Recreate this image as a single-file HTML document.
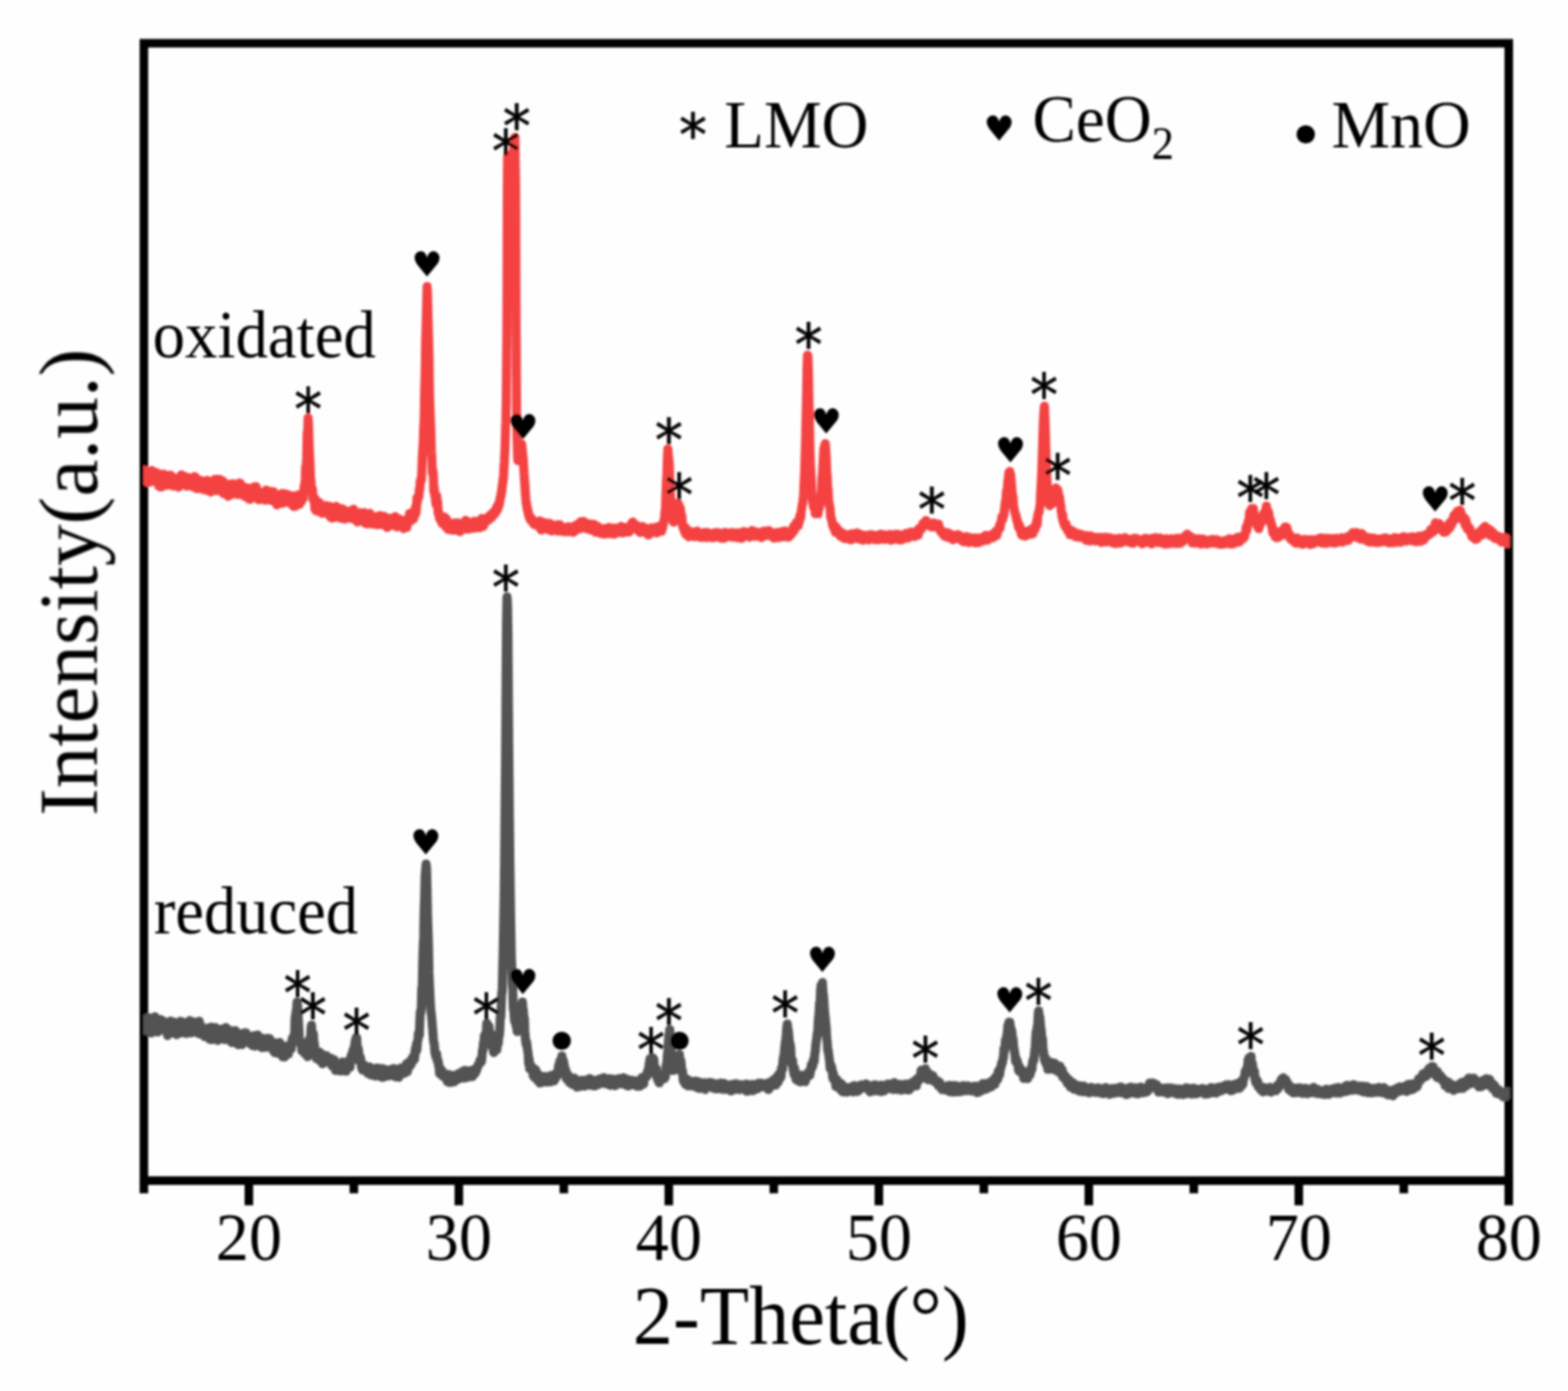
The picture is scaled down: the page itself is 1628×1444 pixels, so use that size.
<!DOCTYPE html>
<html lang="en"><head><meta charset="utf-8"><title>XRD patterns</title>
<style>
html,body{margin:0;padding:0;background:#fff;}
body{width:1628px;height:1444px;overflow:hidden;}
svg{display:block;}
.s{font-family:"Liberation Serif","DejaVu Serif",serif;fill:#000;}
.m{font-family:"DejaVu Sans","Liberation Sans",sans-serif;fill:#000;}
</style></head><body>
<svg width="1628" height="1444" viewBox="0 0 1628 1444">
<defs><filter id="soft" x="0" y="0" width="1628" height="1444" filterUnits="userSpaceOnUse"><feGaussianBlur stdDeviation="0.9"/></filter><clipPath id="plot"><rect x="149" y="0" width="1418.7" height="1444"/></clipPath></defs>
<rect x="0" y="0" width="1628" height="1444" fill="#fefefe"/>
<g filter="url(#soft)">
<rect x="149.4" y="44.9" width="1417.1" height="1180.7" fill="none" stroke="#000" stroke-width="8.9"/>
<path d="M149.4,1225.6V1238.8M258.4,1225.6V1251.2M367.4,1225.6V1238.8M476.4,1225.6V1251.2M585.4,1225.6V1238.8M694.4,1225.6V1251.2M803.4,1225.6V1238.8M912.5,1225.6V1251.2M1021.5,1225.6V1238.8M1130.5,1225.6V1251.2M1239.5,1225.6V1238.8M1348.5,1225.6V1251.2M1457.5,1225.6V1238.8M1566.5,1225.6V1251.2" fill="none" stroke="#000" stroke-width="8.9"/>
<path d="M149.4,1063.9 149.9,1069.7 150.4,1066.5 150.9,1060.2 151.4,1058.3 151.9,1065.2 152.4,1057.0 152.9,1060.8 153.4,1064.6 153.9,1061.3 154.4,1056.5 154.9,1070.2 155.4,1070.1 155.9,1061.8 156.4,1066.1 156.9,1072.3 157.4,1070.3 157.9,1058.6 158.4,1061.4 158.9,1060.4 159.4,1068.3 159.9,1065.5 160.4,1057.7 160.9,1055.5 161.4,1070.8 161.9,1059.0 162.4,1063.2 162.9,1063.0 163.4,1071.3 163.9,1064.2 164.4,1070.8 164.9,1069.4 165.4,1060.5 165.9,1066.8 166.4,1059.2 166.9,1058.5 167.4,1068.9 167.9,1063.7 168.4,1059.4 168.9,1065.2 169.4,1065.2 169.9,1068.8 170.4,1068.0 170.9,1066.8 171.4,1061.1 171.9,1063.2 172.4,1067.7 172.9,1066.0 173.4,1067.1 173.9,1075.0 174.4,1073.7 174.9,1066.5 175.4,1071.8 175.9,1071.9 176.4,1062.8 176.9,1060.0 177.4,1066.2 177.9,1072.0 178.4,1060.5 178.9,1062.1 179.4,1072.4 179.9,1060.9 180.4,1072.6 180.9,1062.4 181.4,1067.1 181.9,1072.3 182.4,1062.6 182.9,1066.2 183.4,1074.0 183.9,1063.2 184.4,1062.8 184.9,1070.4 185.4,1072.6 185.9,1067.6 186.4,1062.1 186.9,1068.8 187.4,1060.1 187.9,1060.4 188.4,1064.8 188.9,1072.3 189.4,1071.0 189.9,1065.1 190.4,1061.5 190.9,1061.5 191.4,1067.8 191.9,1067.9 192.4,1067.9 192.9,1062.5 193.4,1072.8 193.9,1069.0 194.4,1071.6 194.9,1066.4 195.4,1061.5 195.9,1069.6 196.4,1066.2 196.9,1059.5 197.4,1060.4 197.9,1065.5 198.4,1072.2 198.9,1065.5 199.4,1069.0 199.9,1068.0 200.4,1063.5 200.9,1065.0 201.4,1060.8 201.9,1061.6 202.4,1067.3 202.9,1069.4 203.4,1062.6 203.9,1069.7 204.4,1067.8 204.9,1072.3 205.4,1070.9 205.9,1065.8 206.4,1067.7 206.9,1060.3 207.4,1073.3 207.9,1071.9 208.4,1068.5 208.9,1065.1 209.4,1071.4 209.9,1068.2 210.4,1072.4 210.9,1069.8 211.4,1068.5 211.9,1069.6 212.4,1076.1 212.9,1075.8 213.4,1068.2 213.9,1068.4 214.4,1071.4 214.9,1069.7 215.4,1068.5 215.9,1072.6 216.4,1067.6 216.9,1066.9 217.4,1068.6 217.9,1078.9 218.4,1075.9 218.9,1072.1 219.4,1066.3 219.9,1079.2 220.4,1077.0 220.9,1076.6 221.4,1070.8 221.9,1068.2 222.4,1067.3 222.9,1075.8 223.4,1066.8 223.9,1073.7 224.4,1075.3 224.9,1072.8 225.4,1077.1 225.9,1080.0 226.4,1068.2 226.9,1069.9 227.4,1070.2 227.9,1073.3 228.4,1076.3 228.9,1074.3 229.4,1075.0 229.9,1077.9 230.4,1070.0 230.9,1068.8 231.4,1068.3 231.9,1078.5 232.4,1070.9 232.9,1074.4 233.4,1079.4 233.9,1068.6 234.4,1066.6 234.9,1069.4 235.4,1071.2 235.9,1073.3 236.4,1068.5 236.9,1077.2 237.4,1075.8 237.9,1078.1 238.4,1070.6 238.9,1071.8 239.4,1078.0 239.9,1074.8 240.4,1082.2 240.9,1079.8 241.4,1071.1 241.9,1070.2 242.4,1073.5 242.9,1079.4 243.4,1076.8 243.9,1071.1 244.4,1069.9 244.9,1077.0 245.4,1082.8 245.9,1077.9 246.4,1083.2 246.9,1077.7 247.4,1084.6 247.9,1078.1 248.4,1083.8 248.9,1075.5 249.4,1073.1 249.9,1081.9 250.4,1074.0 250.9,1083.4 251.4,1084.3 251.9,1076.8 252.4,1076.5 252.9,1079.6 253.4,1081.4 253.9,1072.1 254.4,1078.8 254.9,1072.8 255.4,1072.2 255.9,1075.0 256.4,1075.9 256.9,1075.8 257.4,1080.1 257.9,1077.6 258.4,1075.9 258.9,1078.2 259.4,1080.9 259.9,1083.7 260.4,1077.8 260.9,1084.1 261.4,1082.4 261.9,1085.2 262.4,1078.9 262.9,1075.7 263.4,1075.2 263.9,1080.5 264.4,1086.0 264.9,1077.3 265.4,1078.7 265.9,1083.9 266.4,1078.7 266.9,1085.3 267.4,1074.4 267.9,1084.3 268.4,1076.5 268.9,1085.3 269.4,1082.9 269.9,1084.0 270.4,1080.5 270.9,1078.9 271.4,1079.6 271.9,1087.6 272.4,1083.0 272.9,1077.9 273.4,1086.1 273.9,1086.8 274.4,1085.9 274.9,1079.3 275.4,1080.5 275.9,1087.2 276.4,1084.9 276.9,1085.3 277.4,1077.9 277.9,1083.7 278.4,1080.4 278.9,1079.3 279.4,1078.3 279.9,1078.3 280.4,1080.8 280.9,1087.4 281.4,1086.4 281.9,1086.4 282.4,1084.8 282.9,1083.0 283.4,1088.3 283.9,1091.3 284.4,1086.9 284.9,1082.5 285.4,1092.8 285.9,1087.6 286.4,1082.9 286.9,1091.1 287.4,1086.0 287.9,1083.0 288.4,1093.3 288.9,1086.3 289.4,1084.8 289.9,1087.5 290.4,1082.3 290.9,1085.4 291.4,1091.4 291.9,1088.4 292.4,1085.5 292.9,1088.3 293.4,1096.9 293.9,1093.8 294.4,1092.7 294.9,1086.6 295.4,1097.2 295.9,1091.2 296.4,1090.4 296.9,1092.9 297.4,1092.4 297.9,1093.4 298.4,1085.6 298.9,1091.1 299.4,1094.1 299.9,1088.2 300.4,1085.5 300.9,1085.3 301.4,1084.8 301.9,1087.7 302.4,1088.9 302.9,1081.4 303.4,1078.4 303.9,1077.1 304.4,1077.6 304.9,1075.8 305.4,1077.8 305.9,1072.7 306.4,1056.6 306.9,1054.2 307.4,1050.0 307.9,1048.7 308.4,1040.2 308.9,1042.6 309.4,1051.6 309.9,1060.3 310.4,1070.1 310.9,1080.2 311.4,1081.0 311.9,1083.7 312.4,1084.1 312.9,1083.5 313.4,1090.9 313.9,1082.8 314.4,1091.1 314.9,1091.7 315.4,1084.6 315.9,1089.9 316.4,1093.9 316.9,1092.9 317.4,1091.2 317.9,1089.8 318.4,1087.4 318.9,1086.8 319.4,1096.9 319.9,1091.2 320.4,1091.6 320.9,1079.7 321.4,1078.3 321.9,1077.7 322.4,1079.7 322.9,1068.1 323.4,1064.1 323.9,1072.9 324.4,1076.5 324.9,1081.1 325.4,1073.4 325.9,1082.5 326.4,1083.0 326.9,1093.3 327.4,1090.2 327.9,1089.9 328.4,1098.7 328.9,1094.8 329.4,1091.6 329.9,1095.2 330.4,1097.3 330.9,1100.3 331.4,1096.0 331.9,1092.5 332.4,1099.4 332.9,1101.7 333.4,1095.3 333.9,1099.9 334.4,1101.7 334.9,1104.3 335.4,1095.1 335.9,1102.1 336.4,1101.3 336.9,1097.0 337.4,1100.8 337.9,1096.5 338.4,1096.0 338.9,1096.0 339.4,1100.2 339.9,1101.7 340.4,1099.1 340.9,1102.4 341.4,1102.0 341.9,1100.0 342.4,1101.5 342.9,1102.9 343.4,1103.2 343.9,1098.7 344.4,1106.0 344.9,1106.7 345.4,1101.4 345.9,1104.1 346.4,1107.0 346.9,1100.3 347.4,1108.7 347.9,1107.8 348.4,1111.2 348.9,1105.7 349.4,1104.2 349.9,1104.1 350.4,1111.2 350.9,1109.1 351.4,1105.9 351.9,1104.5 352.4,1109.8 352.9,1111.8 353.4,1110.9 353.9,1104.2 354.4,1107.7 354.9,1106.7 355.4,1102.4 355.9,1108.1 356.4,1111.7 356.9,1103.0 357.4,1103.9 357.9,1106.1 358.4,1103.0 358.9,1105.0 359.4,1112.0 359.9,1104.3 360.4,1108.8 360.9,1108.0 361.4,1102.6 361.9,1106.5 362.4,1100.7 362.9,1105.5 363.4,1107.9 363.9,1100.3 364.4,1096.8 364.9,1095.3 365.4,1100.8 365.9,1097.3 366.4,1090.2 366.9,1093.3 367.4,1096.3 367.9,1086.6 368.4,1084.0 368.9,1080.2 369.4,1080.5 369.9,1077.0 370.4,1077.5 370.9,1090.2 371.4,1087.1 371.9,1088.5 372.4,1091.2 372.9,1099.4 373.4,1096.1 373.9,1102.8 374.4,1098.5 374.9,1102.3 375.4,1107.9 375.9,1109.6 376.4,1110.9 376.9,1107.1 377.4,1110.4 377.9,1108.6 378.4,1105.9 378.9,1111.3 379.4,1109.9 379.9,1106.9 380.4,1109.3 380.9,1109.3 381.4,1112.1 381.9,1114.4 382.4,1112.8 382.9,1112.3 383.4,1108.2 383.9,1107.6 384.4,1109.8 384.9,1115.8 385.4,1111.2 385.9,1115.8 386.4,1114.9 386.9,1116.2 387.4,1111.5 387.9,1115.8 388.4,1113.6 388.9,1111.1 389.4,1112.7 389.9,1117.1 390.4,1116.0 390.9,1108.7 391.4,1109.4 391.9,1108.6 392.4,1110.0 392.9,1110.3 393.4,1116.7 393.9,1111.6 394.4,1113.5 394.9,1111.2 395.4,1113.2 395.9,1118.1 396.4,1116.6 396.9,1109.3 397.4,1118.4 397.9,1110.3 398.4,1110.3 398.9,1110.0 399.4,1116.8 399.9,1115.2 400.4,1114.1 400.9,1112.9 401.4,1111.8 401.9,1117.1 402.4,1111.4 402.9,1110.6 403.4,1114.9 403.9,1116.8 404.4,1112.9 404.9,1112.3 405.4,1110.5 405.9,1113.2 406.4,1114.7 406.9,1115.4 407.4,1111.8 407.9,1109.4 408.4,1112.2 408.9,1113.4 409.4,1109.3 409.9,1109.5 410.4,1117.8 410.9,1110.3 411.4,1110.5 411.9,1115.2 412.4,1112.4 412.9,1113.5 413.4,1112.7 413.9,1118.4 414.4,1116.1 414.9,1116.5 415.4,1113.4 415.9,1108.8 416.4,1112.5 416.9,1109.0 417.4,1114.0 417.9,1109.1 418.4,1111.5 418.9,1109.2 419.4,1108.5 419.9,1114.2 420.4,1113.0 420.9,1107.4 421.4,1108.2 421.9,1104.6 422.4,1106.2 422.9,1112.5 423.4,1103.4 423.9,1109.4 424.4,1104.7 424.9,1104.0 425.4,1105.9 425.9,1101.5 426.4,1105.9 426.9,1102.4 427.4,1103.8 427.9,1099.1 428.4,1097.6 428.9,1098.1 429.4,1100.5 429.9,1095.3 430.4,1099.4 430.9,1092.1 431.4,1088.2 431.9,1092.0 432.4,1083.4 432.9,1089.4 433.4,1081.2 433.9,1079.9 434.4,1072.8 434.9,1072.2 435.4,1074.7 435.9,1060.0 436.4,1050.1 436.9,1051.5 437.4,1046.5 437.9,1026.0 438.4,1026.2 438.9,999.8 439.4,983.6 439.9,972.9 440.4,944.4 440.9,930.4 441.4,909.4 441.9,903.3 442.4,896.9 442.9,901.1 443.4,923.7 443.9,949.9 444.4,965.3 444.9,981.3 445.4,1009.9 445.9,1021.7 446.4,1031.9 446.9,1043.1 447.4,1049.8 447.9,1053.1 448.4,1058.6 448.9,1065.1 449.4,1070.6 449.9,1077.9 450.4,1082.4 450.9,1083.5 451.4,1091.1 451.9,1094.5 452.4,1095.9 452.9,1098.0 453.4,1094.2 453.9,1100.3 454.4,1102.2 454.9,1101.1 455.4,1106.5 455.9,1106.5 456.4,1114.5 456.9,1112.4 457.4,1110.8 457.9,1111.3 458.4,1110.7 458.9,1111.8 459.4,1117.0 459.9,1114.4 460.4,1114.2 460.9,1114.5 461.4,1116.9 461.9,1114.8 462.4,1117.0 462.9,1114.8 463.4,1117.5 463.9,1121.8 464.4,1116.7 464.9,1123.3 465.4,1118.1 465.9,1118.2 466.4,1115.5 466.9,1120.3 467.4,1123.8 467.9,1117.0 468.4,1116.1 468.9,1117.5 469.4,1120.3 469.9,1117.5 470.4,1119.2 470.9,1119.1 471.4,1123.0 471.9,1122.6 472.4,1122.2 472.9,1120.8 473.4,1117.7 473.9,1116.1 474.4,1115.4 474.9,1118.9 475.4,1120.6 475.9,1114.6 476.4,1117.2 476.9,1118.1 477.4,1114.0 477.9,1116.6 478.4,1116.7 478.9,1115.1 479.4,1115.6 479.9,1114.2 480.4,1112.1 480.9,1112.1 481.4,1116.0 481.9,1119.2 482.4,1111.2 482.9,1117.3 483.4,1112.3 483.9,1118.3 484.4,1112.6 484.9,1118.3 485.4,1118.5 485.9,1111.8 486.4,1118.0 486.9,1112.9 487.4,1111.7 487.9,1112.1 488.4,1114.9 488.9,1117.6 489.4,1112.4 489.9,1113.1 490.4,1117.5 490.9,1113.0 491.4,1115.2 491.9,1110.2 492.4,1115.1 492.9,1114.6 493.4,1114.3 493.9,1111.1 494.4,1112.2 494.9,1110.4 495.4,1109.0 495.9,1107.9 496.4,1105.2 496.9,1105.6 497.4,1104.6 497.9,1104.3 498.4,1100.6 498.9,1102.3 499.4,1101.2 499.9,1102.1 500.4,1097.0 500.9,1090.0 501.4,1090.7 501.9,1082.7 502.4,1083.4 502.9,1075.1 503.4,1082.0 503.9,1075.8 504.4,1073.1 504.9,1072.7 505.4,1062.3 505.9,1064.7 506.4,1068.5 506.9,1065.2 507.4,1064.9 507.9,1066.3 508.4,1078.3 508.9,1076.1 509.4,1072.4 509.9,1084.2 510.4,1083.6 510.9,1086.9 511.4,1086.3 511.9,1083.1 512.4,1092.3 512.9,1092.6 513.4,1091.6 513.9,1083.3 514.4,1082.8 514.9,1084.9 515.4,1085.0 515.9,1089.5 516.4,1078.3 516.9,1077.0 517.4,1083.0 517.9,1074.0 518.4,1075.3 518.9,1069.9 519.4,1055.5 519.9,1056.5 520.4,1044.7 520.9,1031.4 521.4,1029.7 521.9,1008.6 522.4,989.1 522.9,960.6 523.4,933.3 523.9,891.9 524.4,838.0 524.9,784.0 525.4,710.6 525.9,645.7 526.4,619.7 526.9,625.7 527.4,657.9 527.9,733.2 528.4,794.1 528.9,847.4 529.4,894.0 529.9,931.8 530.4,964.6 530.9,993.8 531.4,1003.9 531.9,1021.7 532.4,1026.8 532.9,1047.6 533.4,1047.2 533.9,1055.8 534.4,1060.4 534.9,1056.1 535.4,1057.2 535.9,1065.5 536.4,1062.1 536.9,1070.8 537.4,1064.1 537.9,1068.1 538.4,1068.8 538.9,1060.0 539.4,1060.2 539.9,1057.0 540.4,1051.7 540.9,1046.6 541.4,1046.4 541.9,1043.4 542.4,1040.1 542.9,1047.8 543.4,1048.3 543.9,1061.0 544.4,1057.0 544.9,1070.0 545.4,1076.8 545.9,1081.7 546.4,1084.6 546.9,1082.4 547.4,1087.7 547.9,1091.2 548.4,1093.9 548.9,1104.5 549.4,1099.4 549.9,1109.6 550.4,1108.2 550.9,1105.3 551.4,1107.9 551.9,1110.4 552.4,1111.7 552.9,1108.4 553.4,1116.3 553.9,1111.2 554.4,1118.1 554.9,1113.4 555.4,1117.6 555.9,1110.5 556.4,1115.7 556.9,1112.5 557.4,1120.9 557.9,1118.2 558.4,1114.6 558.9,1121.8 559.4,1121.7 559.9,1120.0 560.4,1124.3 560.9,1119.4 561.4,1120.0 561.9,1122.4 562.4,1123.9 562.9,1120.6 563.4,1118.0 563.9,1119.1 564.4,1121.8 564.9,1121.3 565.4,1117.4 565.9,1123.0 566.4,1118.5 566.9,1122.7 567.4,1119.1 567.9,1121.1 568.4,1123.2 568.9,1122.8 569.4,1118.3 569.9,1118.6 570.4,1122.3 570.9,1118.7 571.4,1123.0 571.9,1116.4 572.4,1122.1 572.9,1119.0 573.4,1121.4 573.9,1121.4 574.4,1118.5 574.9,1122.1 575.4,1121.9 575.9,1120.1 576.4,1120.3 576.9,1114.3 577.4,1117.4 577.9,1116.0 578.4,1117.2 578.9,1113.7 579.4,1113.6 579.9,1106.6 580.4,1105.4 580.9,1103.2 581.4,1101.2 581.9,1104.2 582.4,1099.4 582.9,1102.1 583.4,1096.2 583.9,1099.8 584.4,1102.7 584.9,1100.5 585.4,1103.3 585.9,1106.6 586.4,1111.4 586.9,1109.3 587.4,1111.9 587.9,1119.7 588.4,1117.1 588.9,1114.4 589.4,1115.8 589.9,1116.2 590.4,1117.5 590.9,1123.4 591.4,1121.7 591.9,1119.8 592.4,1119.2 592.9,1124.9 593.4,1119.2 593.9,1121.4 594.4,1125.8 594.9,1119.2 595.4,1124.0 595.9,1125.2 596.4,1119.3 596.9,1120.6 597.4,1122.2 597.9,1127.2 598.4,1126.1 598.9,1128.6 599.4,1124.1 599.9,1124.4 600.4,1127.2 600.9,1124.5 601.4,1127.9 601.9,1122.9 602.4,1127.8 602.9,1123.0 603.4,1121.4 603.9,1125.1 604.4,1126.5 604.9,1124.0 605.4,1123.7 605.9,1121.5 606.4,1125.3 606.9,1127.5 607.4,1121.4 607.9,1124.7 608.4,1123.4 608.9,1123.9 609.4,1124.6 609.9,1124.0 610.4,1125.5 610.9,1121.3 611.4,1122.8 611.9,1119.7 612.4,1126.3 612.9,1126.8 613.4,1126.3 613.9,1125.5 614.4,1120.6 614.9,1125.1 615.4,1126.6 615.9,1124.0 616.4,1122.8 616.9,1123.8 617.4,1127.4 617.9,1121.6 618.4,1125.8 618.9,1126.3 619.4,1122.9 619.9,1123.0 620.4,1126.1 620.9,1121.8 621.4,1122.6 621.9,1123.1 622.4,1120.2 622.9,1125.0 623.4,1124.3 623.9,1123.4 624.4,1123.3 624.9,1119.5 625.4,1120.4 625.9,1119.4 626.4,1122.0 626.9,1118.6 627.4,1123.3 627.9,1124.7 628.4,1122.1 628.9,1122.3 629.4,1125.1 629.9,1120.4 630.4,1125.0 630.9,1124.4 631.4,1123.0 631.9,1124.2 632.4,1121.6 632.9,1119.8 633.4,1126.7 633.9,1126.2 634.4,1125.3 634.9,1121.1 635.4,1120.7 635.9,1124.5 636.4,1124.9 636.9,1125.0 637.4,1120.3 637.9,1122.4 638.4,1127.0 638.9,1120.8 639.4,1121.9 639.9,1124.4 640.4,1125.2 640.9,1122.3 641.4,1121.2 641.9,1122.6 642.4,1119.8 642.9,1122.1 643.4,1120.4 643.9,1119.7 644.4,1125.2 644.9,1124.0 645.4,1121.2 645.9,1120.8 646.4,1123.7 646.9,1121.7 647.4,1118.8 647.9,1119.1 648.4,1120.5 648.9,1123.3 649.4,1126.1 649.9,1125.6 650.4,1120.1 650.9,1122.4 651.4,1127.2 651.9,1125.4 652.4,1127.2 652.9,1124.9 653.4,1123.3 653.9,1124.4 654.4,1124.6 654.9,1121.6 655.4,1126.0 655.9,1121.3 656.4,1122.3 656.9,1122.3 657.4,1122.0 657.9,1122.8 658.4,1126.1 658.9,1122.2 659.4,1122.8 659.9,1122.0 660.4,1122.6 660.9,1126.6 661.4,1127.7 661.9,1124.2 662.4,1123.3 662.9,1127.3 663.4,1122.8 663.9,1123.2 664.4,1127.5 664.9,1124.3 665.4,1122.3 665.9,1123.5 666.4,1118.7 666.9,1123.1 667.4,1125.7 667.9,1121.2 668.4,1125.0 668.9,1117.5 669.4,1118.3 669.9,1118.6 670.4,1117.0 670.9,1116.4 671.4,1117.9 671.9,1115.9 672.4,1111.6 672.9,1111.0 673.4,1111.4 673.9,1104.9 674.4,1103.3 674.9,1099.0 675.4,1105.2 675.9,1099.6 676.4,1103.4 676.9,1101.7 677.4,1100.0 677.9,1098.2 678.4,1102.9 678.9,1099.8 679.4,1109.0 679.9,1112.2 680.4,1114.8 680.9,1116.0 681.4,1109.5 681.9,1118.3 682.4,1117.1 682.9,1121.1 683.4,1120.8 683.9,1115.9 684.4,1124.1 684.9,1116.6 685.4,1120.4 685.9,1121.8 686.4,1118.0 686.9,1120.4 687.4,1116.2 687.9,1117.2 688.4,1116.8 688.9,1119.0 689.4,1115.5 689.9,1119.5 690.4,1115.0 690.9,1117.6 691.4,1107.7 691.9,1104.7 692.4,1103.3 692.9,1094.7 693.4,1092.4 693.9,1081.5 694.4,1074.9 694.9,1072.5 695.4,1068.8 695.9,1078.5 696.4,1081.6 696.9,1088.7 697.4,1100.1 697.9,1102.6 698.4,1111.2 698.9,1105.4 699.4,1111.1 699.9,1106.8 700.4,1109.6 700.9,1109.4 701.4,1106.3 701.9,1105.3 702.4,1100.5 702.9,1096.9 703.4,1097.8 703.9,1097.9 704.4,1098.5 704.9,1102.4 705.4,1094.8 705.9,1104.8 706.4,1100.0 706.9,1101.0 707.4,1106.0 707.9,1113.5 708.4,1111.2 708.9,1115.0 709.4,1121.4 709.9,1122.7 710.4,1118.3 710.9,1122.7 711.4,1125.3 711.9,1124.4 712.4,1121.8 712.9,1126.6 713.4,1120.4 713.9,1125.3 714.4,1127.3 714.9,1124.4 715.4,1122.3 715.9,1123.9 716.4,1125.4 716.9,1123.0 717.4,1127.1 717.9,1122.5 718.4,1123.5 718.9,1122.7 719.4,1126.4 719.9,1123.8 720.4,1127.0 720.9,1124.6 721.4,1128.0 721.9,1123.8 722.4,1122.3 722.9,1124.4 723.4,1125.4 723.9,1129.1 724.4,1128.2 724.9,1123.9 725.4,1129.8 725.9,1123.2 726.4,1124.4 726.9,1128.0 727.4,1126.4 727.9,1128.0 728.4,1125.4 728.9,1129.9 729.4,1127.1 729.9,1125.1 730.4,1130.1 730.9,1129.9 731.4,1124.0 731.9,1131.0 732.4,1124.9 732.9,1127.3 733.4,1128.9 733.9,1125.2 734.4,1124.5 734.9,1124.7 735.4,1125.5 735.9,1127.6 736.4,1123.6 736.9,1125.5 737.4,1125.5 737.9,1127.6 738.4,1126.5 738.9,1124.0 739.4,1124.1 739.9,1129.5 740.4,1127.3 740.9,1129.8 741.4,1126.1 741.9,1130.1 742.4,1129.6 742.9,1125.1 743.4,1130.3 743.9,1129.4 744.4,1130.4 744.9,1125.4 745.4,1128.3 745.9,1124.9 746.4,1130.1 746.9,1129.9 747.4,1125.4 747.9,1127.6 748.4,1130.0 748.9,1124.2 749.4,1125.0 749.9,1127.1 750.4,1130.9 750.9,1125.8 751.4,1130.5 751.9,1124.8 752.4,1130.8 752.9,1127.4 753.4,1127.4 753.9,1130.3 754.4,1127.5 754.9,1128.7 755.4,1126.4 755.9,1131.0 756.4,1126.4 756.9,1126.7 757.4,1129.7 757.9,1129.5 758.4,1128.0 758.9,1132.6 759.4,1128.0 759.9,1125.6 760.4,1126.8 760.9,1126.7 761.4,1128.1 761.9,1131.0 762.4,1131.3 762.9,1130.4 763.4,1128.5 763.9,1125.0 764.4,1129.8 764.9,1129.7 765.4,1128.2 765.9,1126.7 766.4,1130.3 766.9,1126.4 767.4,1131.2 767.9,1126.3 768.4,1129.7 768.9,1125.9 769.4,1129.0 769.9,1126.7 770.4,1127.0 770.9,1126.8 771.4,1126.9 771.9,1129.3 772.4,1126.7 772.9,1126.7 773.4,1131.6 773.9,1127.3 774.4,1125.4 774.9,1132.2 775.4,1132.9 775.9,1132.8 776.4,1129.0 776.9,1129.8 777.4,1125.9 777.9,1130.1 778.4,1128.5 778.9,1130.4 779.4,1126.7 779.9,1128.4 780.4,1126.6 780.9,1132.2 781.4,1125.7 781.9,1132.0 782.4,1128.3 782.9,1127.7 783.4,1129.5 783.9,1126.4 784.4,1127.9 784.9,1129.2 785.4,1127.4 785.9,1130.4 786.4,1130.4 786.9,1128.0 787.4,1124.5 787.9,1126.0 788.4,1128.4 788.9,1127.7 789.4,1126.3 789.9,1127.8 790.4,1124.4 790.9,1128.2 791.4,1125.5 791.9,1126.1 792.4,1124.9 792.9,1126.8 793.4,1125.5 793.9,1126.5 794.4,1128.3 794.9,1127.3 795.4,1125.2 795.9,1129.6 796.4,1126.6 796.9,1126.7 797.4,1124.3 797.9,1131.1 798.4,1126.3 798.9,1129.7 799.4,1128.0 799.9,1128.8 800.4,1123.0 800.9,1127.3 801.4,1124.8 801.9,1124.9 802.4,1121.6 802.9,1124.0 803.4,1123.3 803.9,1120.2 804.4,1124.7 804.9,1123.0 805.4,1126.3 805.9,1124.2 806.4,1123.7 806.9,1117.8 807.4,1116.9 807.9,1123.3 808.4,1121.6 808.9,1114.7 809.4,1117.5 809.9,1114.0 810.4,1118.9 810.9,1117.7 811.4,1108.9 811.9,1108.0 812.4,1110.3 812.9,1101.4 813.4,1097.7 813.9,1096.2 814.4,1091.7 814.9,1086.4 815.4,1081.8 815.9,1079.1 816.4,1073.7 816.9,1066.5 817.4,1062.9 817.9,1067.8 818.4,1069.6 818.9,1074.3 819.4,1080.6 819.9,1082.4 820.4,1084.1 820.9,1087.8 821.4,1098.8 821.9,1102.6 822.4,1105.4 822.9,1100.8 823.4,1110.4 823.9,1108.8 824.4,1115.4 824.9,1108.7 825.4,1112.2 825.9,1115.8 826.4,1120.6 826.9,1115.4 827.4,1118.0 827.9,1117.2 828.4,1122.0 828.9,1121.7 829.4,1118.6 829.9,1118.6 830.4,1116.7 830.9,1123.1 831.4,1116.3 831.9,1119.7 832.4,1122.2 832.9,1118.1 833.4,1118.8 833.9,1118.8 834.4,1116.1 834.9,1116.7 835.4,1122.7 835.9,1122.8 836.4,1121.1 836.9,1118.1 837.4,1118.3 837.9,1118.5 838.4,1116.1 838.9,1114.5 839.4,1115.4 839.9,1112.1 840.4,1115.2 840.9,1116.1 841.4,1111.3 841.9,1110.6 842.4,1105.2 842.9,1108.8 843.4,1106.9 843.9,1106.3 844.4,1100.5 844.9,1099.7 845.4,1101.7 845.9,1093.8 846.4,1092.1 846.9,1085.3 847.4,1082.0 847.9,1078.6 848.4,1072.8 848.9,1074.6 849.4,1062.9 849.9,1056.3 850.4,1051.6 850.9,1041.2 851.4,1044.1 851.9,1028.9 852.4,1022.8 852.9,1028.8 853.4,1022.9 853.9,1020.0 854.4,1029.7 854.9,1032.4 855.4,1038.7 855.9,1047.7 856.4,1053.2 856.9,1056.8 857.4,1063.3 857.9,1067.8 858.4,1078.4 858.9,1081.5 859.4,1090.5 859.9,1090.3 860.4,1094.6 860.9,1098.3 861.4,1101.8 861.9,1109.1 862.4,1106.8 862.9,1106.0 863.4,1107.9 863.9,1109.8 864.4,1116.7 864.9,1119.8 865.4,1114.6 865.9,1118.7 866.4,1120.8 866.9,1123.0 867.4,1121.8 867.9,1128.0 868.4,1123.5 868.9,1120.7 869.4,1127.3 869.9,1127.9 870.4,1127.8 870.9,1129.4 871.4,1130.1 871.9,1128.3 872.4,1125.4 872.9,1124.4 873.4,1131.9 873.9,1125.8 874.4,1130.9 874.9,1133.5 875.4,1133.6 875.9,1127.8 876.4,1132.8 876.9,1129.0 877.4,1128.8 877.9,1133.3 878.4,1133.4 878.9,1132.3 879.4,1133.8 879.9,1129.2 880.4,1130.3 880.9,1129.9 881.4,1129.2 881.9,1129.4 882.4,1131.1 882.9,1131.2 883.4,1130.6 883.9,1128.3 884.4,1129.9 884.9,1131.6 885.4,1133.5 885.9,1132.2 886.4,1133.1 886.9,1127.0 887.4,1130.6 887.9,1129.5 888.4,1130.9 888.9,1133.1 889.4,1129.4 889.9,1131.8 890.4,1133.0 890.9,1130.4 891.4,1132.4 891.9,1131.0 892.4,1127.5 892.9,1127.0 893.4,1130.0 893.9,1126.2 894.4,1129.9 894.9,1129.5 895.4,1128.2 895.9,1129.2 896.4,1129.3 896.9,1128.1 897.4,1129.4 897.9,1126.4 898.4,1128.5 898.9,1125.2 899.4,1129.5 899.9,1129.1 900.4,1125.8 900.9,1130.7 901.4,1128.5 901.9,1128.8 902.4,1130.2 902.9,1132.6 903.4,1133.5 903.9,1129.8 904.4,1130.4 904.9,1129.9 905.4,1132.4 905.9,1130.5 906.4,1130.7 906.9,1132.5 907.4,1126.6 907.9,1126.1 908.4,1129.7 908.9,1126.2 909.4,1127.3 909.9,1127.5 910.4,1126.6 910.9,1132.5 911.4,1128.3 911.9,1130.9 912.4,1129.1 912.9,1128.1 913.4,1132.8 913.9,1126.7 914.4,1127.6 914.9,1133.2 915.4,1132.7 915.9,1126.4 916.4,1126.9 916.9,1128.4 917.4,1131.4 917.9,1132.5 918.4,1131.8 918.9,1130.4 919.4,1130.6 919.9,1127.2 920.4,1126.7 920.9,1127.9 921.4,1125.9 921.9,1125.3 922.4,1128.3 922.9,1126.9 923.4,1130.0 923.9,1127.0 924.4,1126.7 924.9,1129.7 925.4,1128.9 925.9,1126.1 926.4,1128.8 926.9,1124.9 927.4,1131.1 927.9,1129.8 928.4,1123.9 928.9,1127.3 929.4,1124.7 929.9,1126.4 930.4,1125.6 930.9,1126.9 931.4,1131.0 931.9,1128.1 932.4,1127.0 932.9,1130.1 933.4,1127.9 933.9,1125.6 934.4,1128.7 934.9,1128.2 935.4,1128.2 935.9,1131.7 936.4,1127.7 936.9,1130.3 937.4,1128.2 937.9,1131.0 938.4,1128.7 938.9,1126.4 939.4,1125.4 939.9,1130.0 940.4,1125.7 940.9,1125.4 941.4,1128.6 941.9,1131.2 942.4,1131.5 942.9,1126.8 943.4,1126.7 943.9,1125.3 944.4,1131.2 944.9,1129.6 945.4,1129.7 945.9,1125.6 946.4,1124.1 946.9,1123.7 947.4,1127.2 947.9,1124.5 948.4,1126.0 948.9,1126.0 949.4,1122.9 949.9,1125.2 950.4,1123.5 950.9,1120.8 951.4,1127.4 951.9,1122.4 952.4,1121.3 952.9,1123.0 953.4,1122.3 953.9,1119.9 954.4,1117.8 954.9,1120.6 955.4,1118.4 955.9,1117.2 956.4,1111.0 956.9,1113.5 957.4,1111.8 957.9,1115.2 958.4,1112.5 958.9,1115.9 959.4,1116.4 959.9,1111.9 960.4,1115.6 960.9,1109.5 961.4,1110.7 961.9,1118.0 962.4,1116.4 962.9,1120.5 963.4,1120.8 963.9,1114.5 964.4,1114.1 964.9,1120.7 965.4,1120.9 965.9,1120.7 966.4,1118.2 966.9,1118.0 967.4,1120.9 967.9,1121.4 968.4,1116.7 968.9,1122.1 969.4,1118.3 969.9,1120.9 970.4,1120.6 970.9,1123.1 971.4,1121.3 971.9,1124.2 972.4,1124.6 972.9,1123.8 973.4,1124.4 973.9,1122.3 974.4,1127.3 974.9,1124.9 975.4,1125.9 975.9,1123.9 976.4,1126.5 976.9,1127.8 977.4,1129.5 977.9,1131.1 978.4,1129.9 978.9,1129.5 979.4,1129.0 979.9,1130.8 980.4,1131.3 980.9,1128.2 981.4,1128.7 981.9,1128.2 982.4,1129.0 982.9,1130.7 983.4,1131.7 983.9,1127.3 984.4,1129.1 984.9,1128.7 985.4,1133.2 985.9,1126.8 986.4,1128.1 986.9,1131.6 987.4,1130.3 987.9,1129.4 988.4,1130.2 988.9,1133.7 989.4,1126.9 989.9,1132.6 990.4,1133.6 990.9,1127.0 991.4,1127.7 991.9,1132.6 992.4,1132.8 992.9,1133.2 993.4,1127.1 993.9,1131.4 994.4,1128.0 994.9,1131.0 995.4,1133.5 995.9,1132.9 996.4,1131.9 996.9,1132.3 997.4,1128.9 997.9,1128.8 998.4,1133.0 998.9,1129.2 999.4,1129.1 999.9,1127.0 1000.4,1131.5 1000.9,1130.7 1001.4,1130.6 1001.9,1127.3 1002.4,1130.1 1002.9,1127.9 1003.4,1132.4 1003.9,1129.7 1004.4,1131.4 1004.9,1127.2 1005.4,1128.6 1005.9,1128.1 1006.4,1131.8 1006.9,1127.9 1007.4,1129.9 1007.9,1132.2 1008.4,1132.5 1008.9,1129.6 1009.4,1131.5 1009.9,1130.5 1010.4,1132.6 1010.9,1128.1 1011.4,1127.7 1011.9,1131.6 1012.4,1128.7 1012.9,1127.6 1013.4,1127.5 1013.9,1129.9 1014.4,1134.3 1014.9,1129.4 1015.4,1128.1 1015.9,1132.2 1016.4,1133.8 1016.9,1130.8 1017.4,1130.0 1017.9,1131.0 1018.4,1129.7 1018.9,1128.6 1019.4,1130.9 1019.9,1132.0 1020.4,1124.9 1020.9,1128.3 1021.4,1127.7 1021.9,1127.8 1022.4,1128.9 1022.9,1130.5 1023.4,1126.7 1023.9,1130.6 1024.4,1124.7 1024.9,1128.3 1025.4,1127.9 1025.9,1127.3 1026.4,1129.1 1026.9,1124.6 1027.4,1123.9 1027.9,1126.7 1028.4,1128.5 1028.9,1122.8 1029.4,1127.7 1029.9,1122.8 1030.4,1126.6 1030.9,1121.5 1031.4,1125.4 1031.9,1126.0 1032.4,1123.9 1032.9,1125.7 1033.4,1118.3 1033.9,1119.2 1034.4,1122.0 1034.9,1119.8 1035.4,1119.7 1035.9,1120.6 1036.4,1112.3 1036.9,1113.9 1037.4,1110.7 1037.9,1115.5 1038.4,1110.8 1038.9,1108.1 1039.4,1108.0 1039.9,1103.4 1040.4,1103.0 1040.9,1103.0 1041.4,1098.3 1041.9,1097.7 1042.4,1088.5 1042.9,1091.6 1043.4,1087.3 1043.9,1080.1 1044.4,1078.6 1044.9,1081.4 1045.4,1073.8 1045.9,1072.7 1046.4,1064.6 1046.9,1067.4 1047.4,1061.3 1047.9,1068.4 1048.4,1061.2 1048.9,1064.2 1049.4,1067.0 1049.9,1068.5 1050.4,1069.7 1050.9,1073.9 1051.4,1082.7 1051.9,1078.8 1052.4,1086.8 1052.9,1088.8 1053.4,1091.8 1053.9,1095.4 1054.4,1102.0 1054.9,1102.4 1055.4,1099.7 1055.9,1102.2 1056.4,1101.9 1056.9,1105.0 1057.4,1110.4 1057.9,1111.8 1058.4,1108.8 1058.9,1107.9 1059.4,1110.0 1059.9,1113.2 1060.4,1113.3 1060.9,1114.4 1061.4,1111.3 1061.9,1111.9 1062.4,1113.6 1062.9,1119.6 1063.4,1118.1 1063.9,1114.6 1064.4,1112.7 1064.9,1113.0 1065.4,1115.4 1065.9,1119.0 1066.4,1116.2 1066.9,1119.7 1067.4,1113.8 1067.9,1115.2 1068.4,1111.7 1068.9,1113.5 1069.4,1116.0 1069.9,1113.5 1070.4,1111.4 1070.9,1108.0 1071.4,1110.0 1071.9,1103.8 1072.4,1100.8 1072.9,1101.9 1073.4,1100.4 1073.9,1095.5 1074.4,1090.3 1074.9,1087.4 1075.4,1076.7 1075.9,1070.7 1076.4,1073.6 1076.9,1065.5 1077.4,1064.8 1077.9,1054.0 1078.4,1049.3 1078.9,1058.5 1079.4,1055.0 1079.9,1059.0 1080.4,1066.6 1080.9,1067.9 1081.4,1073.8 1081.9,1079.6 1082.4,1078.3 1082.9,1089.6 1083.4,1090.9 1083.9,1096.1 1084.4,1099.4 1084.9,1101.9 1085.4,1099.6 1085.9,1098.6 1086.4,1105.2 1086.9,1101.4 1087.4,1103.5 1087.9,1110.1 1088.4,1105.6 1088.9,1104.2 1089.4,1109.9 1089.9,1109.6 1090.4,1102.6 1090.9,1105.5 1091.4,1103.7 1091.9,1109.7 1092.4,1107.1 1092.9,1108.6 1093.4,1103.4 1093.9,1109.1 1094.4,1109.8 1094.9,1103.7 1095.4,1109.0 1095.9,1110.8 1096.4,1109.8 1096.9,1107.4 1097.4,1106.3 1097.9,1110.3 1098.4,1111.2 1098.9,1112.8 1099.4,1107.7 1099.9,1111.2 1100.4,1106.6 1100.9,1109.6 1101.4,1114.3 1101.9,1111.3 1102.4,1110.2 1102.9,1110.5 1103.4,1118.2 1103.9,1116.5 1104.4,1116.6 1104.9,1119.0 1105.4,1119.0 1105.9,1116.6 1106.4,1121.3 1106.9,1120.9 1107.4,1122.2 1107.9,1119.3 1108.4,1125.0 1108.9,1121.4 1109.4,1120.9 1109.9,1120.9 1110.4,1123.3 1110.9,1122.4 1111.4,1128.6 1111.9,1126.0 1112.4,1127.5 1112.9,1126.1 1113.4,1127.3 1113.9,1123.8 1114.4,1128.0 1114.9,1130.7 1115.4,1126.0 1115.9,1128.7 1116.4,1128.0 1116.9,1129.7 1117.4,1126.4 1117.9,1130.5 1118.4,1129.0 1118.9,1126.9 1119.4,1131.5 1119.9,1132.5 1120.4,1131.4 1120.9,1132.0 1121.4,1132.8 1121.9,1127.6 1122.4,1127.3 1122.9,1128.2 1123.4,1127.5 1123.9,1130.6 1124.4,1133.4 1124.9,1132.0 1125.4,1127.5 1125.9,1132.3 1126.4,1132.8 1126.9,1129.2 1127.4,1129.5 1127.9,1131.9 1128.4,1129.6 1128.9,1133.9 1129.4,1132.9 1129.9,1133.2 1130.4,1134.2 1130.9,1134.4 1131.4,1133.7 1131.9,1129.8 1132.4,1133.4 1132.9,1128.7 1133.4,1132.6 1133.9,1132.7 1134.4,1132.1 1134.9,1132.9 1135.4,1130.8 1135.9,1132.3 1136.4,1131.6 1136.9,1134.1 1137.4,1131.9 1137.9,1129.6 1138.4,1129.6 1138.9,1133.9 1139.4,1130.4 1139.9,1133.0 1140.4,1129.1 1140.9,1129.9 1141.4,1131.0 1141.9,1131.4 1142.4,1134.6 1142.9,1133.7 1143.4,1132.8 1143.9,1132.4 1144.4,1132.6 1144.9,1134.1 1145.4,1135.3 1145.9,1129.9 1146.4,1133.8 1146.9,1132.9 1147.4,1132.3 1147.9,1129.0 1148.4,1132.3 1148.9,1134.7 1149.4,1129.9 1149.9,1133.5 1150.4,1134.7 1150.9,1133.3 1151.4,1135.6 1151.9,1136.0 1152.4,1131.5 1152.9,1132.7 1153.4,1132.2 1153.9,1130.5 1154.4,1130.0 1154.9,1130.0 1155.4,1133.5 1155.9,1133.7 1156.4,1135.1 1156.9,1131.3 1157.4,1134.4 1157.9,1130.8 1158.4,1129.7 1158.9,1132.7 1159.4,1130.7 1159.9,1134.4 1160.4,1133.9 1160.9,1133.8 1161.4,1131.3 1161.9,1133.4 1162.4,1130.2 1162.9,1128.5 1163.4,1133.3 1163.9,1128.4 1164.4,1134.5 1164.9,1129.8 1165.4,1131.1 1165.9,1130.2 1166.4,1134.0 1166.9,1131.9 1167.4,1132.3 1167.9,1132.8 1168.4,1131.3 1168.9,1132.2 1169.4,1136.4 1169.9,1131.3 1170.4,1129.7 1170.9,1132.1 1171.4,1132.2 1171.9,1135.5 1172.4,1132.8 1172.9,1134.4 1173.4,1133.8 1173.9,1128.4 1174.4,1132.8 1174.9,1130.8 1175.4,1134.4 1175.9,1134.2 1176.4,1133.9 1176.9,1133.7 1177.4,1129.4 1177.9,1135.0 1178.4,1132.1 1178.9,1129.2 1179.4,1132.2 1179.9,1133.4 1180.4,1130.9 1180.9,1130.1 1181.4,1135.6 1181.9,1130.1 1182.4,1129.4 1182.9,1132.8 1183.4,1129.4 1183.9,1133.9 1184.4,1128.4 1184.9,1129.3 1185.4,1131.5 1185.9,1129.4 1186.4,1132.6 1186.9,1134.5 1187.4,1133.2 1187.9,1132.2 1188.4,1133.4 1188.9,1129.8 1189.4,1131.6 1189.9,1133.3 1190.4,1133.7 1190.9,1129.8 1191.4,1129.2 1191.9,1131.3 1192.4,1131.9 1192.9,1126.7 1193.4,1124.7 1193.9,1124.1 1194.4,1126.3 1194.9,1126.4 1195.4,1128.4 1195.9,1127.5 1196.4,1125.2 1196.9,1125.7 1197.4,1124.2 1197.9,1128.8 1198.4,1128.8 1198.9,1128.4 1199.4,1129.1 1199.9,1126.8 1200.4,1129.0 1200.9,1125.8 1201.4,1127.3 1201.9,1131.0 1202.4,1132.4 1202.9,1133.8 1203.4,1133.3 1203.9,1131.0 1204.4,1130.3 1204.9,1133.2 1205.4,1132.4 1205.9,1129.8 1206.4,1132.8 1206.9,1131.5 1207.4,1130.1 1207.9,1133.7 1208.4,1129.6 1208.9,1131.9 1209.4,1133.6 1209.9,1130.1 1210.4,1131.2 1210.9,1129.4 1211.4,1130.9 1211.9,1131.9 1212.4,1135.4 1212.9,1133.6 1213.4,1132.2 1213.9,1129.3 1214.4,1129.5 1214.9,1134.5 1215.4,1133.7 1215.9,1134.0 1216.4,1129.5 1216.9,1130.4 1217.4,1130.0 1217.9,1129.9 1218.4,1132.7 1218.9,1132.4 1219.4,1134.5 1219.9,1130.2 1220.4,1130.1 1220.9,1135.5 1221.4,1133.6 1221.9,1134.1 1222.4,1135.4 1222.9,1133.1 1223.4,1136.1 1223.9,1130.4 1224.4,1132.7 1224.9,1130.7 1225.4,1135.4 1225.9,1132.9 1226.4,1132.8 1226.9,1131.8 1227.4,1135.2 1227.9,1131.8 1228.4,1136.3 1228.9,1134.4 1229.4,1133.8 1229.9,1130.3 1230.4,1129.7 1230.9,1134.0 1231.4,1133.3 1231.9,1129.2 1232.4,1131.8 1232.9,1135.2 1233.4,1134.9 1233.9,1129.8 1234.4,1130.6 1234.9,1131.2 1235.4,1135.3 1235.9,1134.7 1236.4,1134.4 1236.9,1130.2 1237.4,1135.8 1237.9,1134.4 1238.4,1129.6 1238.9,1132.1 1239.4,1129.6 1239.9,1133.9 1240.4,1133.6 1240.9,1131.4 1241.4,1135.5 1241.9,1135.6 1242.4,1131.6 1242.9,1133.6 1243.4,1135.0 1243.9,1130.8 1244.4,1134.3 1244.9,1133.1 1245.4,1131.9 1245.9,1133.9 1246.4,1133.5 1246.9,1132.3 1247.4,1133.6 1247.9,1130.0 1248.4,1131.8 1248.9,1132.5 1249.4,1134.2 1249.9,1134.0 1250.4,1130.3 1250.9,1135.8 1251.4,1133.2 1251.9,1134.0 1252.4,1134.4 1252.9,1134.0 1253.4,1131.4 1253.9,1135.6 1254.4,1135.5 1254.9,1131.0 1255.4,1135.1 1255.9,1131.2 1256.4,1132.7 1256.9,1134.5 1257.4,1128.9 1257.9,1133.5 1258.4,1129.8 1258.9,1132.7 1259.4,1130.1 1259.9,1134.4 1260.4,1129.5 1260.9,1132.6 1261.4,1131.3 1261.9,1133.9 1262.4,1134.5 1262.9,1134.7 1263.4,1130.1 1263.9,1131.8 1264.4,1129.8 1264.9,1128.6 1265.4,1131.6 1265.9,1128.4 1266.4,1128.6 1266.9,1128.9 1267.4,1132.6 1267.9,1131.6 1268.4,1129.9 1268.9,1131.2 1269.4,1129.8 1269.9,1130.0 1270.4,1127.5 1270.9,1130.7 1271.4,1131.0 1271.9,1130.8 1272.4,1126.9 1272.9,1126.3 1273.4,1127.4 1273.9,1130.4 1274.4,1127.1 1274.9,1126.5 1275.4,1126.9 1275.9,1126.2 1276.4,1126.5 1276.9,1131.5 1277.4,1128.5 1277.9,1132.2 1278.4,1132.1 1278.9,1127.6 1279.4,1131.6 1279.9,1131.9 1280.4,1125.9 1280.9,1127.8 1281.4,1127.9 1281.9,1130.2 1282.4,1125.4 1282.9,1126.0 1283.4,1127.3 1283.9,1128.0 1284.4,1129.2 1284.9,1129.9 1285.4,1126.6 1285.9,1124.1 1286.4,1129.8 1286.9,1126.3 1287.4,1129.2 1287.9,1123.0 1288.4,1125.2 1288.9,1123.3 1289.4,1122.3 1289.9,1126.5 1290.4,1125.5 1290.9,1119.7 1291.4,1119.9 1291.9,1118.3 1292.4,1116.8 1292.9,1111.9 1293.4,1115.5 1293.9,1113.6 1294.4,1110.0 1294.9,1107.5 1295.4,1108.1 1295.9,1100.1 1296.4,1101.8 1296.9,1098.0 1297.4,1099.2 1297.9,1101.0 1298.4,1102.6 1298.9,1096.6 1299.4,1106.2 1299.9,1103.6 1300.4,1104.3 1300.9,1111.9 1301.4,1113.0 1301.9,1113.7 1302.4,1112.1 1302.9,1119.5 1303.4,1121.7 1303.9,1123.9 1304.4,1122.0 1304.9,1120.9 1305.4,1125.7 1305.9,1122.8 1306.4,1128.2 1306.9,1127.5 1307.4,1129.1 1307.9,1127.4 1308.4,1127.3 1308.9,1131.2 1309.4,1128.0 1309.9,1129.4 1310.4,1129.5 1310.9,1131.0 1311.4,1133.5 1311.9,1131.6 1312.4,1132.6 1312.9,1132.4 1313.4,1129.1 1313.9,1131.5 1314.4,1132.9 1314.9,1131.8 1315.4,1131.9 1315.9,1131.8 1316.4,1129.4 1316.9,1129.9 1317.4,1129.3 1317.9,1129.4 1318.4,1130.3 1318.9,1128.7 1319.4,1133.7 1319.9,1129.5 1320.4,1132.7 1320.9,1132.4 1321.4,1132.2 1321.9,1131.6 1322.4,1131.4 1322.9,1129.7 1323.4,1129.5 1323.9,1130.4 1324.4,1130.1 1324.9,1132.2 1325.4,1130.4 1325.9,1127.5 1326.4,1126.4 1326.9,1130.2 1327.4,1128.2 1327.9,1126.5 1328.4,1128.0 1328.9,1125.9 1329.4,1125.7 1329.9,1121.4 1330.4,1121.6 1330.9,1119.8 1331.4,1121.2 1331.9,1119.9 1332.4,1118.8 1332.9,1122.2 1333.4,1120.5 1333.9,1123.4 1334.4,1120.5 1334.9,1120.8 1335.4,1121.8 1335.9,1125.2 1336.4,1124.2 1336.9,1124.1 1337.4,1128.2 1337.9,1130.8 1338.4,1128.0 1338.9,1126.8 1339.4,1132.2 1339.9,1130.4 1340.4,1129.4 1340.9,1131.7 1341.4,1133.5 1341.9,1132.0 1342.4,1132.0 1342.9,1134.6 1343.4,1130.3 1343.9,1131.4 1344.4,1129.5 1344.9,1130.2 1345.4,1132.7 1345.9,1130.2 1346.4,1129.6 1346.9,1134.3 1347.4,1130.1 1347.9,1132.5 1348.4,1132.6 1348.9,1129.1 1349.4,1129.6 1349.9,1132.1 1350.4,1134.0 1350.9,1133.7 1351.4,1129.7 1351.9,1131.9 1352.4,1135.1 1352.9,1131.0 1353.4,1132.9 1353.9,1130.9 1354.4,1130.0 1354.9,1134.2 1355.4,1129.7 1355.9,1130.8 1356.4,1131.9 1356.9,1134.3 1357.4,1135.5 1357.9,1130.5 1358.4,1130.9 1358.9,1130.9 1359.4,1134.6 1359.9,1131.8 1360.4,1133.4 1360.9,1133.2 1361.4,1132.3 1361.9,1134.2 1362.4,1133.0 1362.9,1132.6 1363.4,1130.8 1363.9,1128.7 1364.4,1133.3 1364.9,1134.5 1365.4,1133.6 1365.9,1130.3 1366.4,1133.6 1366.9,1134.0 1367.4,1135.3 1367.9,1131.5 1368.4,1130.9 1368.9,1134.8 1369.4,1134.2 1369.9,1131.8 1370.4,1132.9 1370.9,1132.1 1371.4,1135.2 1371.9,1134.9 1372.4,1135.9 1372.9,1133.7 1373.4,1135.6 1373.9,1133.9 1374.4,1136.0 1374.9,1135.7 1375.4,1131.8 1375.9,1132.9 1376.4,1136.1 1376.9,1130.8 1377.4,1133.9 1377.9,1134.4 1378.4,1134.0 1378.9,1134.3 1379.4,1134.2 1379.9,1136.0 1380.4,1131.9 1380.9,1134.2 1381.4,1134.5 1381.9,1133.2 1382.4,1134.4 1382.9,1130.6 1383.4,1133.3 1383.9,1130.2 1384.4,1130.2 1384.9,1131.7 1385.4,1131.3 1385.9,1133.4 1386.4,1134.0 1386.9,1134.7 1387.4,1129.3 1387.9,1131.5 1388.4,1131.9 1388.9,1132.8 1389.4,1132.5 1389.9,1128.9 1390.4,1134.1 1390.9,1133.2 1391.4,1134.7 1391.9,1130.7 1392.4,1132.8 1392.9,1131.3 1393.4,1131.4 1393.9,1130.5 1394.4,1132.9 1394.9,1129.1 1395.4,1130.4 1395.9,1131.4 1396.4,1133.3 1396.9,1127.5 1397.4,1130.2 1397.9,1130.7 1398.4,1126.6 1398.9,1130.2 1399.4,1132.6 1399.9,1127.1 1400.4,1130.2 1400.9,1128.8 1401.4,1127.7 1401.9,1129.0 1402.4,1128.9 1402.9,1129.5 1403.4,1129.7 1403.9,1126.4 1404.4,1131.9 1404.9,1129.7 1405.4,1125.9 1405.9,1130.2 1406.4,1128.2 1406.9,1130.1 1407.4,1126.9 1407.9,1130.2 1408.4,1131.3 1408.9,1128.6 1409.4,1130.8 1409.9,1130.7 1410.4,1131.2 1410.9,1130.3 1411.4,1132.1 1411.9,1128.2 1412.4,1127.4 1412.9,1132.1 1413.4,1132.4 1413.9,1127.6 1414.4,1129.8 1414.9,1129.6 1415.4,1133.6 1415.9,1127.8 1416.4,1131.1 1416.9,1133.1 1417.4,1130.2 1417.9,1132.5 1418.4,1131.1 1418.9,1128.0 1419.4,1134.2 1419.9,1132.6 1420.4,1133.1 1420.9,1134.4 1421.4,1130.5 1421.9,1132.3 1422.4,1131.3 1422.9,1133.8 1423.4,1129.7 1423.9,1132.9 1424.4,1134.5 1424.9,1132.8 1425.4,1133.1 1425.9,1131.1 1426.4,1133.7 1426.9,1129.9 1427.4,1133.8 1427.9,1129.7 1428.4,1134.1 1428.9,1133.9 1429.4,1130.9 1429.9,1132.0 1430.4,1133.2 1430.9,1130.5 1431.4,1132.1 1431.9,1128.8 1432.4,1133.7 1432.9,1133.2 1433.4,1129.6 1433.9,1133.2 1434.4,1134.2 1434.9,1133.7 1435.4,1131.7 1435.9,1131.8 1436.4,1130.5 1436.9,1128.9 1437.4,1131.3 1437.9,1134.6 1438.4,1130.4 1438.9,1132.1 1439.4,1135.4 1439.9,1131.5 1440.4,1133.9 1440.9,1136.5 1441.4,1134.6 1441.9,1136.5 1442.4,1135.9 1442.9,1133.3 1443.4,1136.5 1443.9,1132.2 1444.4,1132.7 1444.9,1132.4 1445.4,1131.7 1445.9,1137.5 1446.4,1131.5 1446.9,1131.5 1447.4,1136.2 1447.9,1136.1 1448.4,1133.7 1448.9,1133.1 1449.4,1132.7 1449.9,1129.9 1450.4,1130.7 1450.9,1132.2 1451.4,1129.3 1451.9,1130.3 1452.4,1128.5 1452.9,1133.1 1453.4,1131.3 1453.9,1131.7 1454.4,1128.3 1454.9,1128.8 1455.4,1129.3 1455.9,1132.2 1456.4,1128.9 1456.9,1130.1 1457.4,1128.5 1457.9,1130.8 1458.4,1132.0 1458.9,1127.9 1459.4,1127.2 1459.9,1130.2 1460.4,1133.0 1460.9,1128.2 1461.4,1127.6 1461.9,1132.1 1462.4,1125.7 1462.9,1125.7 1463.4,1125.8 1463.9,1130.5 1464.4,1126.6 1464.9,1129.8 1465.4,1131.3 1465.9,1125.3 1466.4,1126.1 1466.9,1130.8 1467.4,1129.7 1467.9,1127.6 1468.4,1129.5 1468.9,1125.0 1469.4,1127.8 1469.9,1128.9 1470.4,1126.2 1470.9,1128.2 1471.4,1127.9 1471.9,1126.2 1472.4,1123.2 1472.9,1119.9 1473.4,1122.7 1473.9,1121.7 1474.4,1119.3 1474.9,1121.6 1475.4,1119.3 1475.9,1118.9 1476.4,1118.8 1476.9,1116.9 1477.4,1114.6 1477.9,1118.6 1478.4,1114.6 1478.9,1117.2 1479.4,1115.7 1479.9,1113.4 1480.4,1117.3 1480.9,1117.4 1481.4,1114.1 1481.9,1114.6 1482.4,1113.3 1482.9,1113.8 1483.4,1109.5 1483.9,1114.5 1484.4,1113.6 1484.9,1108.7 1485.4,1109.7 1485.9,1109.7 1486.4,1107.3 1486.9,1112.9 1487.4,1108.0 1487.9,1107.2 1488.4,1114.6 1488.9,1110.3 1489.4,1110.3 1489.9,1112.9 1490.4,1113.7 1490.9,1113.3 1491.4,1117.6 1491.9,1118.2 1492.4,1112.5 1492.9,1118.8 1493.4,1115.8 1493.9,1117.0 1494.4,1115.8 1494.9,1118.0 1495.4,1116.2 1495.9,1117.2 1496.4,1118.7 1496.9,1119.3 1497.4,1121.5 1497.9,1121.7 1498.4,1119.8 1498.9,1121.7 1499.4,1123.8 1499.9,1122.9 1500.4,1127.1 1500.9,1125.4 1501.4,1122.5 1501.9,1122.6 1502.4,1126.4 1502.9,1128.1 1503.4,1126.2 1503.9,1129.9 1504.4,1123.7 1504.9,1128.2 1505.4,1128.9 1505.9,1128.3 1506.4,1129.5 1506.9,1127.0 1507.4,1126.1 1507.9,1127.5 1508.4,1126.3 1508.9,1130.0 1509.4,1132.0 1509.9,1129.0 1510.4,1131.1 1510.9,1127.1 1511.4,1129.1 1511.9,1126.9 1512.4,1128.8 1512.9,1127.9 1513.4,1127.1 1513.9,1129.9 1514.4,1129.0 1514.9,1130.0 1515.4,1129.2 1515.9,1126.9 1516.4,1124.5 1516.9,1127.0 1517.4,1124.5 1517.9,1123.6 1518.4,1123.4 1518.9,1129.9 1519.4,1128.3 1519.9,1125.4 1520.4,1124.5 1520.9,1124.3 1521.4,1124.5 1521.9,1127.7 1522.4,1122.0 1522.9,1124.6 1523.4,1120.9 1523.9,1125.4 1524.4,1124.5 1524.9,1119.2 1525.4,1123.4 1525.9,1119.4 1526.4,1119.2 1526.9,1125.1 1527.4,1123.1 1527.9,1120.0 1528.4,1124.0 1528.9,1119.5 1529.4,1122.4 1529.9,1121.1 1530.4,1119.2 1530.9,1120.7 1531.4,1120.9 1531.9,1123.4 1532.4,1122.7 1532.9,1125.0 1533.4,1123.9 1533.9,1123.2 1534.4,1122.7 1534.9,1123.9 1535.4,1128.3 1535.9,1125.9 1536.4,1124.3 1536.9,1124.8 1537.4,1124.9 1537.9,1128.0 1538.4,1126.0 1538.9,1121.9 1539.4,1124.5 1539.9,1122.1 1540.4,1122.6 1540.9,1126.3 1541.4,1120.8 1541.9,1123.6 1542.4,1125.7 1542.9,1121.8 1543.4,1119.7 1543.9,1121.6 1544.4,1126.4 1544.9,1123.0 1545.4,1123.6 1545.9,1124.7 1546.4,1120.5 1546.9,1121.1 1547.4,1125.6 1547.9,1124.0 1548.4,1125.5 1548.9,1126.4 1549.4,1129.9 1549.9,1125.2 1550.4,1129.8 1550.9,1130.0 1551.4,1130.1 1551.9,1127.1 1552.4,1132.7 1552.9,1130.5 1553.4,1134.7 1553.9,1134.1 1554.4,1130.4 1554.9,1132.1 1555.4,1135.4 1555.9,1132.3 1556.4,1131.5 1556.9,1132.8 1557.4,1136.0 1557.9,1133.2 1558.4,1136.6 1558.9,1133.2 1559.4,1137.4 1559.9,1136.0 1560.4,1135.3 1560.9,1138.8 1561.4,1134.0 1561.9,1137.7 1562.4,1134.2 1562.9,1137.2 1563.4,1138.3 1563.9,1136.6 1564.4,1134.6 1564.9,1136.4 1565.4,1135.8 1565.9,1133.1 1566.4,1135.8" fill="none" stroke="#535353" stroke-width="9.4" stroke-linejoin="round" stroke-linecap="butt" clip-path="url(#plot)"/>
<path d="M149.4,490.6 149.9,488.0 150.4,495.1 150.9,499.2 151.4,494.5 151.9,495.1 152.4,489.3 152.9,495.4 153.4,500.8 153.9,500.6 154.4,499.7 154.9,490.5 155.4,500.5 155.9,500.2 156.4,490.9 156.9,496.7 157.4,488.5 157.9,490.7 158.4,493.1 158.9,490.4 159.4,498.8 159.9,499.6 160.4,492.8 160.9,492.9 161.4,490.8 161.9,490.4 162.4,498.9 162.9,498.2 163.4,491.3 163.9,498.3 164.4,498.0 164.9,504.8 165.4,503.2 165.9,501.3 166.4,500.8 166.9,505.6 167.4,505.6 167.9,496.3 168.4,494.6 168.9,501.6 169.4,492.2 169.9,496.6 170.4,493.0 170.9,496.4 171.4,493.0 171.9,495.8 172.4,503.4 172.9,503.8 173.4,502.4 173.9,498.9 174.4,499.6 174.9,495.8 175.4,493.8 175.9,498.2 176.4,502.8 176.9,493.3 177.4,493.6 177.9,503.6 178.4,497.1 178.9,501.9 179.4,502.6 179.9,504.6 180.4,496.7 180.9,496.0 181.4,502.0 181.9,501.6 182.4,500.1 182.9,502.2 183.4,500.3 183.9,504.8 184.4,496.9 184.9,503.0 185.4,505.7 185.9,497.6 186.4,500.8 186.9,497.8 187.4,498.9 187.9,493.5 188.4,493.0 188.9,502.4 189.4,498.1 189.9,500.7 190.4,502.5 190.9,498.5 191.4,497.2 191.9,494.5 192.4,502.4 192.9,503.6 193.4,502.7 193.9,504.6 194.4,501.5 194.9,502.6 195.4,495.6 195.9,504.0 196.4,498.6 196.9,501.3 197.4,499.1 197.9,502.1 198.4,503.7 198.9,502.8 199.4,498.7 199.9,497.4 200.4,505.6 200.9,498.3 201.4,499.3 201.9,494.7 202.4,498.3 202.9,495.3 203.4,498.2 203.9,503.5 204.4,507.3 204.9,502.3 205.4,498.0 205.9,503.4 206.4,503.4 206.9,506.0 207.4,501.3 207.9,506.5 208.4,499.7 208.9,498.7 209.4,502.6 209.9,507.8 210.4,505.3 210.9,502.5 211.4,502.2 211.9,504.7 212.4,502.4 212.9,503.7 213.4,508.9 213.9,508.0 214.4,507.2 214.9,498.8 215.4,503.7 215.9,501.6 216.4,509.3 216.9,501.7 217.4,509.9 217.9,501.6 218.4,503.9 218.9,510.7 219.4,505.0 219.9,509.4 220.4,503.5 220.9,499.7 221.4,505.6 221.9,503.5 222.4,502.6 222.9,497.6 223.4,498.1 223.9,508.2 224.4,508.5 224.9,509.3 225.4,500.9 225.9,497.5 226.4,504.0 226.9,506.4 227.4,505.4 227.9,497.6 228.4,500.5 228.9,507.2 229.4,498.8 229.9,509.2 230.4,510.5 230.9,501.8 231.4,499.4 231.9,512.2 232.4,510.1 232.9,506.1 233.4,507.0 233.9,512.9 234.4,506.5 234.9,503.0 235.4,510.5 235.9,506.8 236.4,512.1 236.9,515.2 237.4,507.2 237.9,505.2 238.4,502.7 238.9,512.0 239.4,502.5 239.9,513.3 240.4,510.0 240.9,511.3 241.4,510.1 241.9,502.4 242.4,502.2 242.9,512.8 243.4,505.0 243.9,511.8 244.4,503.8 244.9,505.9 245.4,511.7 245.9,505.9 246.4,512.1 246.9,513.4 247.4,505.5 247.9,505.3 248.4,501.5 248.9,506.8 249.4,501.6 249.9,508.5 250.4,510.7 250.9,509.9 251.4,510.9 251.9,510.7 252.4,514.1 252.9,509.9 253.4,515.0 253.9,509.0 254.4,505.8 254.9,506.8 255.4,513.9 255.9,507.2 256.4,515.2 256.9,516.8 257.4,512.5 257.9,506.7 258.4,513.2 258.9,510.4 259.4,518.4 259.9,510.2 260.4,510.5 260.9,513.5 261.4,514.2 261.9,509.3 262.4,511.6 262.9,514.8 263.4,511.8 263.9,505.4 264.4,510.3 264.9,510.4 265.4,510.6 265.9,505.2 266.4,508.9 266.9,517.4 267.4,517.6 267.9,518.5 268.4,516.3 268.9,512.4 269.4,518.8 269.9,511.0 270.4,515.2 270.9,515.8 271.4,514.5 271.9,511.5 272.4,512.8 272.9,517.4 273.4,511.9 273.9,513.5 274.4,513.9 274.9,512.9 275.4,519.3 275.9,515.1 276.4,508.6 276.9,517.7 277.4,514.2 277.9,518.1 278.4,513.4 278.9,511.1 279.4,518.6 279.9,510.3 280.4,512.0 280.9,514.5 281.4,519.6 281.9,510.4 282.4,513.4 282.9,516.3 283.4,518.1 283.9,510.5 284.4,518.8 284.9,516.9 285.4,517.4 285.9,515.5 286.4,514.7 286.9,522.3 287.4,524.1 287.9,514.0 288.4,515.0 288.9,520.6 289.4,521.6 289.9,521.8 290.4,515.4 290.9,514.6 291.4,513.0 291.9,516.5 292.4,518.7 292.9,522.5 293.4,512.3 293.9,513.4 294.4,520.5 294.9,520.7 295.4,513.8 295.9,513.5 296.4,512.7 296.9,521.3 297.4,516.8 297.9,515.4 298.4,520.3 298.9,513.5 299.4,519.5 299.9,514.4 300.4,514.4 300.9,522.1 301.4,522.4 301.9,517.9 302.4,518.4 302.9,522.9 303.4,515.0 303.9,517.8 304.4,525.2 304.9,525.8 305.4,514.9 305.9,514.9 306.4,525.5 306.9,520.9 307.4,525.0 307.9,523.6 308.4,520.6 308.9,523.5 309.4,521.7 309.9,513.6 310.4,519.1 310.9,523.5 311.4,521.7 311.9,519.5 312.4,518.7 312.9,520.8 313.4,513.1 313.9,513.6 314.4,516.2 314.9,517.6 315.4,509.0 315.9,504.3 316.4,501.9 316.9,498.0 317.4,484.0 317.9,483.7 318.4,475.2 318.9,449.2 319.4,449.2 319.9,434.0 320.4,441.5 320.9,461.3 321.4,471.1 321.9,481.2 322.4,495.8 322.9,499.7 323.4,509.5 323.9,506.9 324.4,507.8 324.9,517.7 325.4,519.0 325.9,520.1 326.4,516.8 326.9,528.2 327.4,518.1 327.9,530.0 328.4,521.7 328.9,521.8 329.4,529.8 329.9,530.7 330.4,527.6 330.9,530.9 331.4,521.6 331.9,530.7 332.4,527.9 332.9,525.0 333.4,529.5 333.9,524.5 334.4,532.9 334.9,530.9 335.4,524.6 335.9,525.7 336.4,527.7 336.9,530.2 337.4,526.9 337.9,527.7 338.4,530.4 338.9,525.0 339.4,532.9 339.9,529.3 340.4,529.9 340.9,531.4 341.4,526.4 341.9,535.0 342.4,525.7 342.9,531.2 343.4,537.1 343.9,527.2 344.4,534.6 344.9,537.7 345.4,537.7 345.9,530.2 346.4,534.3 346.9,537.3 347.4,534.0 347.9,536.6 348.4,533.9 348.9,525.8 349.4,529.7 349.9,536.6 350.4,531.6 350.9,531.8 351.4,530.4 351.9,528.5 352.4,535.0 352.9,532.3 353.4,537.8 353.9,528.0 354.4,538.0 354.9,528.2 355.4,536.3 355.9,532.7 356.4,536.1 356.9,532.8 357.4,529.4 357.9,538.8 358.4,535.3 358.9,530.6 359.4,535.7 359.9,531.4 360.4,534.3 360.9,536.1 361.4,536.9 361.9,530.9 362.4,531.8 362.9,534.2 363.4,534.2 363.9,538.1 364.4,534.7 364.9,536.9 365.4,531.9 365.9,529.4 366.4,531.2 366.9,528.6 367.4,532.8 367.9,536.7 368.4,539.5 368.9,533.2 369.4,538.4 369.9,539.3 370.4,538.7 370.9,541.8 371.4,537.8 371.9,536.7 372.4,537.8 372.9,532.2 373.4,532.1 373.9,537.6 374.4,536.3 374.9,533.2 375.4,535.4 375.9,538.6 376.4,537.5 376.9,536.3 377.4,540.5 377.9,532.2 378.4,542.4 378.9,540.3 379.4,538.3 379.9,541.3 380.4,543.9 380.9,540.4 381.4,540.4 381.9,541.0 382.4,543.6 382.9,543.0 383.4,535.8 383.9,532.9 384.4,535.6 384.9,537.0 385.4,536.5 385.9,539.3 386.4,544.0 386.9,536.1 387.4,537.9 387.9,543.7 388.4,536.2 388.9,539.2 389.4,541.5 389.9,543.4 390.4,544.1 390.9,537.9 391.4,544.9 391.9,539.8 392.4,536.5 392.9,536.3 393.4,539.6 393.9,544.1 394.4,535.1 394.9,537.1 395.4,543.9 395.9,544.5 396.4,537.8 396.9,536.4 397.4,543.8 397.9,544.8 398.4,535.9 398.9,542.7 399.4,538.3 399.9,543.8 400.4,538.5 400.9,538.7 401.4,543.2 401.9,547.5 402.4,537.7 402.9,539.0 403.4,539.3 403.9,545.8 404.4,539.1 404.9,539.3 405.4,540.8 405.9,545.3 406.4,538.0 406.9,540.6 407.4,540.8 407.9,541.4 408.4,541.0 408.9,545.1 409.4,537.6 409.9,541.1 410.4,536.3 410.9,545.3 411.4,540.4 411.9,547.0 412.4,543.0 412.9,538.2 413.4,546.0 413.9,540.2 414.4,544.3 414.9,546.1 415.4,539.2 415.9,539.6 416.4,542.3 416.9,542.1 417.4,541.9 417.9,541.0 418.4,541.9 418.9,548.7 419.4,542.9 419.9,543.0 420.4,540.8 420.9,540.1 421.4,540.6 421.9,547.1 422.4,547.6 422.9,538.7 423.4,541.3 423.9,543.1 424.4,541.2 424.9,536.0 425.4,532.9 425.9,540.9 426.4,532.6 426.9,535.0 427.4,538.8 427.9,537.1 428.4,532.9 428.9,537.3 429.4,538.7 429.9,531.4 430.4,535.9 430.9,529.8 431.4,526.2 431.9,532.5 432.4,527.2 432.9,516.8 433.4,520.5 433.9,516.1 434.4,515.3 434.9,516.0 435.4,507.4 435.9,508.3 436.4,499.0 436.9,498.2 437.4,498.9 437.9,490.4 438.4,477.3 438.9,466.9 439.4,460.7 439.9,443.5 440.4,435.0 440.9,404.4 441.4,390.1 441.9,354.8 442.4,338.0 442.9,317.7 443.4,297.5 443.9,305.7 444.4,327.9 444.9,347.2 445.4,367.9 445.9,404.8 446.4,421.5 446.9,435.4 447.4,448.3 447.9,468.2 448.4,475.7 448.9,491.4 449.4,488.4 449.9,492.0 450.4,510.0 450.9,505.9 451.4,514.9 451.9,515.1 452.4,521.6 452.9,524.1 453.4,514.7 453.9,519.4 454.4,520.9 454.9,532.7 455.4,530.9 455.9,535.9 456.4,538.2 456.9,536.8 457.4,539.1 457.9,541.2 458.4,538.2 458.9,541.9 459.4,543.8 459.9,539.5 460.4,537.1 460.9,542.0 461.4,536.7 461.9,540.5 462.4,541.6 462.9,547.1 463.4,538.8 463.9,542.5 464.4,542.8 464.9,546.8 465.4,549.6 465.9,545.0 466.4,548.9 466.9,544.6 467.4,545.9 467.9,543.9 468.4,543.3 468.9,550.4 469.4,548.0 469.9,544.6 470.4,548.0 470.9,546.5 471.4,543.0 471.9,549.0 472.4,550.4 472.9,547.4 473.4,542.9 473.9,545.5 474.4,543.6 474.9,542.7 475.4,544.4 475.9,550.9 476.4,550.8 476.9,550.9 477.4,551.9 477.9,544.3 478.4,545.1 478.9,543.7 479.4,543.2 479.9,548.8 480.4,545.9 480.9,546.9 481.4,549.3 481.9,543.9 482.4,542.7 482.9,547.8 483.4,540.1 483.9,549.0 484.4,544.1 484.9,541.3 485.4,543.0 485.9,541.8 486.4,549.2 486.9,542.1 487.4,542.2 487.9,547.2 488.4,543.3 488.9,544.0 489.4,548.6 489.9,545.4 490.4,548.1 490.9,543.7 491.4,541.7 491.9,541.3 492.4,548.3 492.9,541.9 493.4,541.4 493.9,541.7 494.4,544.6 494.9,545.8 495.4,544.0 495.9,545.3 496.4,544.0 496.9,545.9 497.4,544.6 497.9,540.5 498.0,541.6 498.1,548.0 498.2,543.3 498.3,545.6 498.4,541.4 498.5,545.7 498.6,545.9 498.7,540.8 498.8,547.6 498.9,542.8 499.0,541.5 499.1,544.4 499.2,546.4 499.3,545.5 499.4,543.2 499.5,539.1 499.6,542.2 499.7,543.9 499.8,545.6 499.9,540.1 500.0,542.0 500.1,543.7 500.2,544.5 500.3,538.2 500.4,545.3 500.5,538.9 500.6,545.1 500.7,545.0 500.8,543.4 500.9,542.8 501.0,540.8 501.1,540.4 501.2,545.8 501.3,543.2 501.4,541.8 501.5,540.6 501.6,546.5 501.7,545.8 501.8,546.0 501.9,546.0 502.0,541.6 502.1,542.9 502.2,542.4 502.3,543.0 502.4,542.4 502.5,542.5 502.6,542.3 502.7,541.6 502.8,541.8 502.9,539.8 503.0,540.7 503.1,542.1 503.2,539.8 503.3,540.3 503.4,541.3 503.5,540.6 503.6,539.2 503.7,539.5 503.8,541.1 503.9,540.6 504.0,540.7 504.1,541.7 504.2,541.8 504.3,539.7 504.4,541.6 504.5,540.5 504.6,540.7 504.7,538.8 504.8,539.8 504.9,541.4 505.0,541.1 505.1,539.4 505.2,539.0 505.3,540.8 505.4,539.3 505.5,540.8 505.6,537.8 505.7,539.4 505.8,538.3 505.9,537.5 506.0,539.0 506.1,540.2 506.2,538.7 506.3,538.2 506.4,539.4 506.5,540.0 506.6,539.7 506.7,538.1 506.8,539.7 506.9,539.5 507.0,538.5 507.1,539.5 507.2,537.1 507.3,537.6 507.4,538.1 507.5,539.6 507.6,538.9 507.7,538.8 507.8,539.1 507.9,538.6 508.0,536.2 508.1,538.6 508.2,538.1 508.3,536.3 508.4,537.5 508.5,536.7 508.6,535.0 508.7,537.5 508.8,536.1 508.9,536.9 509.0,537.5 509.1,537.7 509.2,536.3 509.3,535.9 509.4,534.4 509.5,534.8 509.6,536.8 509.7,534.8 509.8,535.9 509.9,534.7 510.0,536.8 510.1,534.8 510.2,536.9 510.3,535.8 510.4,536.7 510.5,535.1 510.6,537.1 510.7,535.3 510.8,535.0 510.9,534.6 511.0,534.2 511.1,535.2 511.2,533.4 511.3,533.1 511.4,535.8 511.5,533.1 511.6,535.0 511.7,532.3 511.8,534.1 511.9,532.1 512.0,532.8 512.1,532.7 512.2,533.8 512.3,531.6 512.4,532.6 512.5,534.1 512.6,533.9 512.7,533.8 512.8,533.1 512.9,533.6 513.0,532.5 513.1,531.7 513.2,533.3 513.3,531.8 513.4,530.9 513.5,533.6 513.6,530.5 513.7,532.5 513.8,530.3 513.9,532.2 514.0,531.3 514.1,532.2 514.2,530.8 514.3,531.4 514.4,530.2 514.5,531.7 514.6,529.9 514.7,531.7 514.8,530.7 514.9,531.3 515.0,528.0 515.1,528.8 515.2,530.4 515.3,528.1 515.4,528.9 515.5,528.4 515.6,526.7 515.7,526.7 515.8,528.3 515.9,527.7 516.0,529.4 516.1,527.5 516.2,526.9 516.3,526.3 516.4,527.2 516.5,529.1 516.6,528.4 516.7,526.8 516.8,526.6 516.9,526.8 517.0,527.0 517.1,524.0 517.2,527.0 517.3,526.4 517.4,524.7 517.5,524.0 517.6,524.8 517.7,524.5 517.8,523.7 517.9,522.6 518.0,524.8 518.1,525.0 518.2,523.8 518.3,521.9 518.4,522.1 518.5,520.6 518.6,523.0 518.7,519.8 518.8,519.8 518.9,520.3 519.0,520.3 519.1,518.6 519.2,517.1 519.3,517.4 519.4,518.6 519.5,515.9 519.6,516.0 519.7,515.0 519.8,514.9 519.9,514.1 520.0,514.3 520.1,515.0 520.2,514.6 520.3,511.6 520.4,511.4 520.5,511.3 520.6,511.9 520.7,511.3 520.8,510.6 520.9,507.8 521.0,507.4 521.1,509.5 521.2,507.1 521.3,507.0 521.4,503.9 521.5,504.8 521.6,502.7 521.7,502.6 521.8,501.7 521.9,502.5 522.0,499.9 522.1,500.8 522.2,498.2 522.3,498.7 522.4,499.1 522.5,495.8 522.6,496.2 522.7,496.8 522.8,494.3 522.9,492.9 523.0,490.0 523.1,487.5 523.2,485.0 523.3,486.6 523.4,481.2 523.5,483.0 523.6,481.2 523.7,479.8 523.8,477.3 523.9,474.8 524.0,471.7 524.1,472.0 524.2,469.0 524.3,466.9 524.4,463.6 524.5,459.9 524.6,458.5 524.7,452.3 524.8,451.2 524.9,446.1 525.0,441.0 525.1,439.5 525.2,436.9 525.3,433.8 525.4,426.7 525.5,423.5 525.6,420.1 525.7,408.5 525.8,396.1 525.9,385.0 526.0,372.4 526.1,363.3 526.2,353.9 526.3,338.0 526.4,305.5 526.5,269.4 526.6,233.6 526.7,198.7 526.8,189.4 526.9,173.2 527.0,162.9 527.1,162.6 527.2,164.9 527.3,161.9 527.4,161.2 527.5,165.5 527.6,163.1 527.7,163.3 527.8,161.9 527.9,162.7 528.0,162.8 528.1,164.9 528.2,162.2 528.3,162.6 528.4,163.3 528.5,163.2 528.6,162.0 528.7,166.3 528.8,165.8 528.9,165.5 529.0,165.2 529.1,163.8 529.2,164.9 529.3,165.8 529.4,165.2 529.5,165.9 529.6,166.2 529.7,166.5 529.8,168.2 529.9,168.5 530.0,167.1 530.1,168.5 530.2,167.4 530.3,169.7 530.4,171.5 530.5,170.1 530.6,172.5 530.7,171.9 530.8,172.0 530.9,173.1 531.0,175.2 531.1,175.0 531.2,175.6 531.3,176.1 531.4,174.4 531.5,173.2 531.6,170.1 531.7,168.7 531.8,169.4 531.9,166.9 532.0,168.6 532.1,168.4 532.2,167.0 532.3,164.8 532.4,165.5 532.5,163.9 532.6,162.1 532.7,161.6 532.8,158.9 532.9,156.9 533.0,160.0 533.1,159.3 533.2,156.2 533.3,155.6 533.4,155.4 533.5,151.1 533.6,152.8 533.7,151.9 533.8,148.4 533.9,149.0 534.0,149.0 534.1,148.8 534.2,145.6 534.3,143.6 534.4,145.1 534.5,143.9 534.6,142.6 534.7,149.6 534.8,155.1 534.9,166.4 535.0,171.1 535.1,176.6 535.2,184.1 535.3,193.6 535.4,198.3 535.5,234.0 535.6,266.3 535.7,295.5 535.8,330.7 535.9,346.8 536.0,364.5 536.1,385.2 536.2,399.5 536.3,419.0 536.4,427.9 536.5,430.5 536.6,439.0 536.7,443.7 536.8,450.1 536.9,457.1 537.0,461.7 537.1,463.5 537.2,467.8 537.3,471.6 537.4,474.1 537.5,475.5 537.6,476.9 537.7,478.2 537.8,475.3 537.9,475.9 538.0,475.2 538.1,477.6 538.2,475.2 538.3,474.2 538.4,473.2 538.5,474.1 538.6,473.8 538.7,474.8 538.8,472.7 538.9,474.4 539.0,469.7 539.1,471.9 539.2,470.5 539.3,469.8 539.4,470.1 539.5,471.9 539.6,469.1 539.7,471.3 539.8,469.4 539.9,468.6 540.0,466.8 540.1,466.6 540.2,469.4 540.3,465.9 540.4,466.1 540.5,465.8 540.6,463.9 540.7,463.7 540.8,463.0 540.9,463.9 541.0,462.0 541.1,463.9 541.2,462.8 541.3,463.7 541.4,461.1 541.5,460.7 541.6,461.5 541.7,462.3 541.8,462.7 541.9,462.9 542.0,465.6 542.1,466.0 542.2,466.9 542.3,469.8 542.4,467.6 542.5,469.1 542.6,473.5 542.7,471.8 542.8,471.6 542.9,473.2 543.0,473.3 543.1,478.3 543.2,476.0 543.3,476.4 543.4,477.7 543.5,482.6 543.6,482.9 543.7,485.9 543.8,485.2 543.9,487.2 544.0,489.2 544.1,491.3 544.2,492.1 544.3,492.5 544.4,495.5 544.5,498.8 544.6,498.7 544.7,499.7 544.8,499.7 544.9,504.8 545.0,502.4 545.1,503.9 545.2,506.5 545.3,510.2 545.4,509.4 545.5,513.0 545.6,514.0 545.7,513.5 545.8,515.6 545.9,516.3 546.0,519.7 546.1,520.2 546.2,521.5 546.3,521.5 546.4,522.1 546.5,522.9 546.6,524.1 546.7,522.7 546.8,522.7 546.9,523.7 547.0,526.2 547.1,526.9 547.2,526.0 547.3,527.2 547.4,528.7 547.5,528.9 547.6,529.4 547.7,529.0 547.8,530.1 547.9,528.7 548.0,530.6 548.1,529.7 548.2,531.5 548.3,530.8 548.4,533.6 548.5,533.6 548.6,533.1 548.7,534.5 548.8,532.4 548.9,534.4 549.0,533.6 549.1,535.1 549.2,535.6 549.3,536.4 549.4,537.0 549.5,536.1 549.6,537.4 549.7,536.2 549.8,537.4 549.9,537.3 550.0,538.3 550.1,536.4 550.2,538.4 550.3,538.8 550.4,538.6 550.5,537.0 550.6,538.6 550.7,539.3 550.8,537.4 550.9,540.0 551.0,538.1 551.1,537.7 551.2,539.2 551.3,537.6 551.4,539.4 551.5,539.0 551.6,540.7 551.7,538.7 551.8,539.6 551.9,538.2 552.0,539.6 552.1,540.5 552.2,539.1 552.3,539.8 552.4,541.0 552.5,540.3 552.6,540.0 552.7,539.8 552.8,539.6 552.9,541.9 553.0,541.0 553.1,540.6 553.2,540.0 553.3,541.9 553.4,542.4 553.5,541.0 553.6,541.5 553.7,543.2 553.8,541.5 553.9,542.0 554.0,542.2 554.1,542.9 554.2,542.4 554.3,544.2 554.4,543.9 554.5,542.7 554.6,542.1 554.7,544.3 554.8,543.9 554.9,542.7 555.0,543.8 555.1,542.5 555.2,543.0 555.3,544.0 555.4,543.3 555.5,543.7 555.6,543.4 555.7,543.0 555.8,543.3 555.9,543.8 556.0,544.7 556.1,542.4 556.2,544.5 556.3,542.8 556.4,543.4 556.5,542.9 556.6,545.0 556.7,544.4 556.8,543.3 556.9,544.7 557.0,544.2 557.1,544.1 557.2,544.0 557.3,544.0 557.4,545.1 557.5,543.5 557.6,543.2 557.7,544.8 557.8,544.0 557.9,543.7 558.0,543.7 558.1,543.4 558.2,544.3 558.3,544.9 558.4,545.3 558.5,543.9 558.6,543.3 558.7,543.7 558.8,543.6 558.9,544.4 559.0,543.3 559.1,545.3 559.2,544.9 559.3,545.7 559.4,546.2 559.5,546.1 559.6,544.6 559.7,543.9 559.8,544.6 559.9,546.0 560.0,546.1 560.1,546.1 560.2,543.4 560.3,545.6 560.4,542.8 560.5,540.9 560.6,540.6 560.7,541.3 560.8,548.4 560.9,545.9 561.0,544.2 561.1,547.7 561.2,545.5 561.3,542.4 561.4,547.6 561.5,545.8 561.6,547.0 561.7,549.5 561.8,542.6 561.9,550.1 562.0,544.4 562.1,543.8 562.2,544.7 562.3,548.8 562.4,544.8 562.5,542.8 562.6,548.0 562.7,546.7 562.8,547.4 562.9,547.6 563.0,549.1 563.1,544.5 563.2,548.4 563.3,545.3 563.4,545.6 563.5,542.6 563.6,549.3 563.7,547.2 563.8,544.7 563.9,542.2 564.4,544.3 564.9,544.8 565.4,547.2 565.9,548.7 566.4,545.6 566.9,544.6 567.4,543.0 567.9,549.5 568.4,544.5 568.9,548.7 569.4,548.0 569.9,545.2 570.4,544.3 570.9,543.2 571.4,544.2 571.9,549.4 572.4,551.2 572.9,548.6 573.4,545.7 573.9,550.1 574.4,548.7 574.9,550.7 575.4,548.3 575.9,549.9 576.4,545.3 576.9,545.2 577.4,544.9 577.9,550.7 578.4,548.1 578.9,545.1 579.4,551.3 579.9,548.1 580.4,545.7 580.9,544.6 581.4,544.9 581.9,548.7 582.4,547.8 582.9,551.5 583.4,551.7 583.9,549.6 584.4,548.4 584.9,551.2 585.4,551.7 585.9,549.5 586.4,551.2 586.9,552.1 587.4,548.7 587.9,549.8 588.4,547.1 588.9,548.7 589.4,548.0 589.9,546.7 590.4,551.8 590.9,549.9 591.4,549.9 591.9,551.9 592.4,551.1 592.9,548.1 593.4,547.3 593.9,549.2 594.4,551.9 594.9,552.6 595.4,552.5 595.9,548.3 596.4,549.2 596.9,545.8 597.4,548.1 597.9,550.5 598.4,545.2 598.9,544.8 599.4,545.8 599.9,544.6 600.4,544.1 600.9,543.6 601.4,545.4 601.9,543.3 602.4,548.7 602.9,541.7 603.4,541.5 603.9,543.1 604.4,547.5 604.9,547.6 605.4,542.8 605.9,541.3 606.4,546.9 606.9,543.0 607.4,548.4 607.9,544.6 608.4,545.3 608.9,543.0 609.4,548.1 609.9,549.2 610.4,548.5 610.9,548.2 611.4,546.4 611.9,544.4 612.4,544.0 612.9,548.0 613.4,550.2 613.9,545.2 614.4,547.2 614.9,547.8 615.4,549.3 615.9,544.3 616.4,544.1 616.9,545.4 617.4,548.5 617.9,548.1 618.4,552.5 618.9,549.2 619.4,551.8 619.9,546.9 620.4,546.2 620.9,552.4 621.4,549.6 621.9,547.6 622.4,551.3 622.9,551.1 623.4,549.1 623.9,553.8 624.4,553.8 624.9,550.5 625.4,549.0 625.9,549.9 626.4,554.3 626.9,550.3 627.4,551.7 627.9,548.6 628.4,551.7 628.9,554.3 629.4,553.8 629.9,550.3 630.4,548.8 630.9,550.9 631.4,551.1 631.9,552.5 632.4,547.4 632.9,552.4 633.4,554.1 633.9,548.5 634.4,550.1 634.9,550.8 635.4,553.8 635.9,548.6 636.4,548.3 636.9,550.7 637.4,554.6 637.9,550.1 638.4,549.6 638.9,553.4 639.4,548.2 639.9,553.3 640.4,551.5 640.9,550.5 641.4,553.1 641.9,549.7 642.4,550.6 642.9,548.8 643.4,552.5 643.9,552.6 644.4,551.6 644.9,546.4 645.4,549.5 645.9,549.6 646.4,550.2 646.9,553.2 647.4,547.5 647.9,551.2 648.4,551.8 648.9,549.4 649.4,548.8 649.9,547.5 650.4,552.4 650.9,549.1 651.4,549.6 651.9,548.4 652.4,548.1 652.9,552.4 653.4,549.5 653.9,550.8 654.4,546.5 654.9,548.4 655.4,548.3 655.9,542.8 656.4,548.2 656.9,542.0 657.4,545.6 657.9,544.6 658.4,547.4 658.9,544.8 659.4,548.2 659.9,548.9 660.4,544.8 660.9,549.5 661.4,549.5 661.9,548.7 662.4,547.2 662.9,547.0 663.4,551.7 663.9,549.5 664.4,552.8 664.9,548.4 665.4,552.1 665.9,547.4 666.4,547.9 666.9,546.4 667.4,551.7 667.9,552.3 668.4,549.5 668.9,548.8 669.4,552.4 669.9,550.0 670.4,548.1 670.9,551.3 671.4,551.6 671.9,553.2 672.4,553.0 672.9,555.3 673.4,550.1 673.9,555.1 674.4,550.4 674.9,553.3 675.4,551.8 675.9,551.2 676.4,547.9 676.9,549.5 677.4,551.5 677.9,548.3 678.4,550.4 678.9,549.8 679.4,551.4 679.9,548.3 680.4,552.2 680.9,549.6 681.4,547.3 681.9,553.3 682.4,552.0 682.9,551.2 683.4,552.0 683.9,546.9 684.4,546.9 684.9,546.1 685.4,547.7 685.9,550.8 686.4,545.9 686.9,551.5 687.4,547.3 687.9,548.5 688.4,545.3 688.9,543.5 689.4,539.7 689.9,538.1 690.4,531.4 690.9,528.7 691.4,513.7 691.9,500.3 692.4,492.9 692.9,475.6 693.4,466.1 693.9,473.1 694.4,476.3 694.9,483.2 695.4,497.1 695.9,510.2 696.4,518.0 696.9,525.8 697.4,530.6 697.9,533.8 698.4,535.1 698.9,541.7 699.4,540.5 699.9,542.1 700.4,538.7 700.9,533.9 701.4,534.3 701.9,535.9 702.4,531.3 702.9,531.3 703.4,524.3 703.9,522.3 704.4,528.6 704.9,524.4 705.4,528.7 705.9,527.9 706.4,527.5 706.9,534.0 707.4,534.4 707.9,535.3 708.4,543.3 708.9,547.1 709.4,548.1 709.9,548.7 710.4,551.1 710.9,552.6 711.4,547.4 711.9,554.8 712.4,549.2 712.9,549.9 713.4,554.5 713.9,551.1 714.4,555.5 714.9,557.2 715.4,555.4 715.9,551.2 716.4,552.2 716.9,555.6 717.4,554.4 717.9,553.6 718.4,552.7 718.9,552.5 719.4,553.4 719.9,553.9 720.4,553.9 720.9,557.2 721.4,553.5 721.9,553.6 722.4,555.4 722.9,554.5 723.4,554.2 723.9,551.3 724.4,554.2 724.9,556.5 725.4,557.3 725.9,556.1 726.4,553.7 726.9,555.5 727.4,553.7 727.9,554.4 728.4,558.1 728.9,555.5 729.4,556.7 729.9,555.5 730.4,556.7 730.9,556.0 731.4,552.6 731.9,554.3 732.4,557.8 732.9,556.5 733.4,558.0 733.9,553.6 734.4,552.7 734.9,557.2 735.4,556.7 735.9,557.0 736.4,557.7 736.9,553.8 737.4,557.8 737.9,557.6 738.4,558.0 738.9,557.2 739.4,553.7 739.9,557.5 740.4,557.9 740.9,558.1 741.4,557.1 741.9,556.5 742.4,553.0 742.9,552.7 743.4,555.1 743.9,557.3 744.4,554.9 744.9,555.0 745.4,556.4 745.9,553.0 746.4,555.2 746.9,554.5 747.4,553.9 747.9,554.0 748.4,557.7 748.9,558.9 749.4,557.6 749.9,558.7 750.4,555.9 750.9,555.0 751.4,558.9 751.9,554.3 752.4,552.6 752.9,556.0 753.4,558.0 753.9,555.0 754.4,554.7 754.9,556.1 755.4,554.2 755.9,555.9 756.4,553.9 756.9,553.2 757.4,556.0 757.9,557.0 758.4,556.8 758.9,556.1 759.4,552.9 759.9,557.5 760.4,553.9 760.9,552.8 761.4,555.3 761.9,557.6 762.4,554.9 762.9,554.9 763.4,556.4 763.9,555.2 764.4,555.2 764.9,558.1 765.4,554.1 765.9,556.1 766.4,553.0 766.9,557.3 767.4,555.1 767.9,558.1 768.4,556.9 768.9,558.7 769.4,553.4 769.9,553.3 770.4,558.7 770.9,556.0 771.4,557.6 771.9,555.2 772.4,551.6 772.9,556.4 773.4,553.6 773.9,554.5 774.4,555.9 774.9,555.9 775.4,556.4 775.9,555.4 776.4,552.9 776.9,556.7 777.4,552.5 777.9,557.2 778.4,557.7 778.9,556.1 779.4,553.8 779.9,553.6 780.4,556.5 780.9,550.6 781.4,556.0 781.9,552.4 782.4,553.3 782.9,552.6 783.4,553.2 783.9,555.1 784.4,556.8 784.9,553.0 785.4,552.1 785.9,552.5 786.4,554.3 786.9,555.0 787.4,555.3 787.9,554.8 788.4,555.6 788.9,555.3 789.4,556.9 789.9,555.8 790.4,558.1 790.9,556.0 791.4,556.7 791.9,551.8 792.4,556.7 792.9,556.5 793.4,554.1 793.9,551.8 794.4,551.2 794.9,552.3 795.4,554.8 795.9,553.4 796.4,553.9 796.9,556.0 797.4,555.3 797.9,553.8 798.4,550.8 798.9,551.1 799.4,554.9 799.9,552.1 800.4,554.7 800.9,554.4 801.4,555.7 801.9,557.0 802.4,554.7 802.9,553.9 803.4,558.7 803.9,554.6 804.4,554.7 804.9,555.6 805.4,557.2 805.9,552.9 806.4,554.5 806.9,552.6 807.4,556.9 807.9,557.7 808.4,558.2 808.9,556.0 809.4,554.7 809.9,557.2 810.4,553.9 810.9,553.6 811.4,553.3 811.9,551.8 812.4,552.6 812.9,557.3 813.4,553.9 813.9,551.5 814.4,554.0 814.9,553.3 815.4,551.2 815.9,551.7 816.4,557.1 816.9,554.3 817.4,557.5 817.9,552.3 818.4,553.5 818.9,557.5 819.4,554.6 819.9,556.6 820.4,556.0 820.9,552.8 821.4,553.3 821.9,554.6 822.4,549.8 822.9,552.8 823.4,552.5 823.9,546.3 824.4,547.6 824.9,548.3 825.4,549.6 825.9,546.4 826.4,546.1 826.9,542.2 827.4,542.6 827.9,543.2 828.4,543.1 828.9,545.7 829.4,539.6 829.9,542.1 830.4,535.3 830.9,538.0 831.4,537.4 831.9,531.2 832.4,527.8 832.9,524.1 833.4,522.2 833.9,517.9 834.4,513.9 834.9,499.1 835.4,491.4 835.9,473.0 836.4,457.3 836.9,432.3 837.4,412.0 837.9,382.1 838.4,368.8 838.9,370.1 839.4,386.7 839.9,415.3 840.4,436.5 840.9,464.4 841.4,480.5 841.9,489.3 842.4,501.4 842.9,511.5 843.4,516.9 843.9,522.1 844.4,525.3 844.9,527.1 845.4,527.7 845.9,525.2 846.4,533.2 846.9,526.8 847.4,528.6 847.9,529.7 848.4,526.8 848.9,528.3 849.4,533.3 849.9,526.5 850.4,527.8 850.9,527.1 851.4,517.5 851.9,518.7 852.4,514.3 852.9,510.4 853.4,495.8 853.9,492.8 854.4,483.5 854.9,475.3 855.4,465.8 855.9,463.9 856.4,461.9 856.9,460.5 857.4,467.9 857.9,474.6 858.4,491.0 858.9,494.2 859.4,509.6 859.9,508.0 860.4,523.0 860.9,522.1 861.4,525.9 861.9,527.8 862.4,536.9 862.9,536.8 863.4,540.0 863.9,540.4 864.4,545.3 864.9,545.1 865.4,547.8 865.9,545.4 866.4,549.8 866.9,546.1 867.4,552.8 867.9,547.0 868.4,551.4 868.9,549.6 869.4,550.6 869.9,552.5 870.4,549.8 870.9,552.1 871.4,551.6 871.9,555.3 872.4,556.7 872.9,554.9 873.4,556.1 873.9,554.6 874.4,552.9 874.9,557.5 875.4,554.9 875.9,555.3 876.4,559.0 876.9,558.6 877.4,554.6 877.9,557.9 878.4,558.0 878.9,555.5 879.4,557.0 879.9,559.4 880.4,556.1 880.9,556.5 881.4,557.0 881.9,559.8 882.4,554.9 882.9,554.5 883.4,557.5 883.9,560.3 884.4,558.2 884.9,556.5 885.4,558.4 885.9,554.0 886.4,556.4 886.9,557.1 887.4,554.5 887.9,554.7 888.4,554.9 888.9,556.9 889.4,559.0 889.9,553.2 890.4,557.8 890.9,557.3 891.4,559.3 891.9,556.6 892.4,558.7 892.9,557.2 893.4,554.6 893.9,558.1 894.4,558.9 894.9,560.6 895.4,556.0 895.9,555.5 896.4,560.7 896.9,556.9 897.4,557.1 897.9,555.7 898.4,557.3 898.9,556.6 899.4,557.2 899.9,558.5 900.4,556.1 900.9,555.7 901.4,558.0 901.9,560.6 902.4,558.8 902.9,556.5 903.4,555.0 903.9,557.9 904.4,558.6 904.9,556.6 905.4,556.6 905.9,555.2 906.4,559.3 906.9,556.0 907.4,557.2 907.9,558.6 908.4,560.3 908.9,556.0 909.4,560.0 909.9,559.4 910.4,555.7 910.9,557.1 911.4,560.0 911.9,558.3 912.4,555.9 912.9,560.3 913.4,557.3 913.9,556.6 914.4,554.5 914.9,554.8 915.4,557.0 915.9,557.2 916.4,559.1 916.9,554.9 917.4,557.9 917.9,556.1 918.4,560.0 918.9,558.0 919.4,559.2 919.9,556.9 920.4,558.0 920.9,555.7 921.4,555.3 921.9,555.5 922.4,557.2 922.9,556.2 923.4,557.0 923.9,559.3 924.4,554.8 924.9,560.8 925.4,560.7 925.9,556.4 926.4,559.8 926.9,555.3 927.4,558.2 927.9,555.0 928.4,556.4 928.9,559.8 929.4,557.3 929.9,556.5 930.4,554.5 930.9,555.2 931.4,559.3 931.9,554.7 932.4,557.8 932.9,560.2 933.4,554.9 933.9,556.9 934.4,557.3 934.9,556.2 935.4,560.6 935.9,560.3 936.4,560.2 936.9,556.0 937.4,559.5 937.9,557.5 938.4,556.7 938.9,558.5 939.4,557.0 939.9,558.4 940.4,553.7 940.9,557.9 941.4,554.4 941.9,557.8 942.4,558.3 942.9,558.6 943.4,553.7 943.9,556.8 944.4,553.9 944.9,556.3 945.4,552.4 945.9,556.0 946.4,556.7 946.9,556.9 947.4,552.5 947.9,552.3 948.4,552.5 948.9,556.4 949.4,556.5 949.9,556.9 950.4,556.5 950.9,553.2 951.4,555.8 951.9,551.8 952.4,552.0 952.9,550.7 953.4,555.5 953.9,548.8 954.4,550.2 954.9,551.5 955.4,549.4 955.9,549.7 956.4,549.1 956.9,549.3 957.4,547.5 957.9,544.1 958.4,543.2 958.9,544.5 959.4,545.2 959.9,544.9 960.4,544.4 960.9,543.4 961.4,540.3 961.9,544.8 962.4,541.5 962.9,543.7 963.4,543.5 963.9,543.2 964.4,544.1 964.9,545.5 965.4,545.2 965.9,546.5 966.4,545.6 966.9,546.3 967.4,547.1 967.9,543.3 968.4,544.6 968.9,544.7 969.4,542.9 969.9,544.7 970.4,544.3 970.9,547.0 971.4,547.4 971.9,546.2 972.4,544.0 972.9,546.8 973.4,545.4 973.9,546.0 974.4,544.1 974.9,548.5 975.4,548.2 975.9,549.4 976.4,549.1 976.9,552.2 977.4,551.4 977.9,552.5 978.4,553.5 978.9,553.1 979.4,554.9 979.9,552.7 980.4,556.4 980.9,556.7 981.4,554.3 981.9,553.0 982.4,556.9 982.9,557.1 983.4,552.9 983.9,557.0 984.4,558.1 984.9,555.9 985.4,553.6 985.9,556.3 986.4,556.7 986.9,556.8 987.4,556.8 987.9,557.2 988.4,555.8 988.9,555.3 989.4,560.3 989.9,555.7 990.4,557.1 990.9,555.8 991.4,556.3 991.9,557.8 992.4,557.5 992.9,557.9 993.4,557.7 993.9,558.6 994.4,555.0 994.9,558.3 995.4,556.1 995.9,559.6 996.4,556.0 996.9,556.7 997.4,557.8 997.9,559.4 998.4,557.8 998.9,561.5 999.4,561.8 999.9,560.4 1000.4,562.5 1000.9,557.5 1001.4,558.7 1001.9,557.7 1002.4,562.3 1002.9,557.8 1003.4,559.5 1003.9,557.0 1004.4,562.6 1004.9,560.9 1005.4,558.8 1005.9,563.3 1006.4,563.0 1006.9,562.0 1007.4,561.9 1007.9,561.6 1008.4,562.3 1008.9,558.2 1009.4,559.7 1009.9,559.0 1010.4,562.2 1010.9,561.2 1011.4,562.5 1011.9,558.7 1012.4,563.6 1012.9,561.0 1013.4,558.3 1013.9,562.1 1014.4,560.5 1014.9,560.4 1015.4,560.0 1015.9,563.3 1016.4,560.2 1016.9,560.7 1017.4,562.8 1017.9,562.3 1018.4,558.2 1018.9,560.8 1019.4,559.5 1019.9,557.6 1020.4,560.9 1020.9,561.5 1021.4,559.2 1021.9,560.0 1022.4,560.6 1022.9,556.7 1023.4,555.6 1023.9,557.1 1024.4,560.1 1024.9,560.9 1025.4,556.2 1025.9,558.5 1026.4,557.5 1026.9,556.2 1027.4,556.0 1027.9,557.5 1028.4,557.5 1028.9,558.1 1029.4,558.6 1029.9,554.8 1030.4,556.3 1030.9,556.5 1031.4,558.1 1031.9,557.1 1032.4,556.7 1032.9,554.7 1033.4,553.0 1033.9,551.5 1034.4,552.3 1034.9,555.8 1035.4,554.1 1035.9,550.2 1036.4,550.7 1036.9,548.3 1037.4,547.5 1037.9,544.8 1038.4,548.3 1038.9,543.9 1039.4,541.1 1039.9,540.0 1040.4,536.0 1040.9,539.5 1041.4,534.9 1041.9,536.2 1042.4,533.7 1042.9,529.7 1043.4,524.0 1043.9,520.4 1044.4,520.8 1044.9,509.9 1045.4,510.9 1045.9,507.5 1046.4,499.2 1046.9,497.0 1047.4,490.6 1047.9,494.2 1048.4,489.5 1048.9,497.8 1049.4,492.7 1049.9,499.6 1050.4,505.5 1050.9,513.0 1051.4,513.7 1051.9,517.8 1052.4,526.0 1052.9,527.8 1053.4,530.7 1053.9,532.7 1054.4,534.5 1054.9,534.8 1055.4,539.5 1055.9,538.6 1056.4,541.7 1056.9,544.8 1057.4,546.8 1057.9,548.3 1058.4,545.0 1058.9,547.5 1059.4,549.4 1059.9,552.0 1060.4,554.5 1060.9,550.4 1061.4,556.0 1061.9,554.5 1062.4,553.7 1062.9,551.4 1063.4,551.2 1063.9,556.0 1064.4,555.9 1064.9,556.5 1065.4,554.1 1065.9,553.8 1066.4,555.3 1066.9,551.5 1067.4,551.6 1067.9,553.3 1068.4,554.3 1068.9,554.9 1069.4,551.5 1069.9,550.4 1070.4,549.5 1070.9,551.1 1071.4,554.3 1071.9,551.8 1072.4,553.9 1072.9,549.1 1073.4,549.5 1073.9,550.2 1074.4,546.0 1074.9,549.2 1075.4,546.5 1075.9,545.1 1076.4,539.9 1076.9,544.3 1077.4,535.3 1077.9,533.7 1078.4,531.4 1078.9,531.5 1079.4,526.7 1079.9,525.3 1080.4,513.3 1080.9,503.7 1081.4,495.3 1081.9,480.9 1082.4,466.5 1082.9,449.8 1083.4,436.1 1083.9,427.2 1084.4,421.7 1084.9,434.2 1085.4,448.8 1085.9,468.1 1086.4,483.2 1086.9,495.7 1087.4,505.0 1087.9,512.9 1088.4,514.0 1088.9,522.9 1089.4,517.5 1089.9,525.0 1090.4,522.8 1090.9,522.2 1091.4,523.6 1091.9,520.3 1092.4,522.9 1092.9,522.6 1093.4,515.5 1093.9,511.9 1094.4,511.9 1094.9,512.2 1095.4,507.5 1095.9,508.8 1096.4,506.5 1096.9,511.0 1097.4,510.2 1097.9,508.3 1098.4,508.5 1098.9,512.7 1099.4,520.3 1099.9,515.2 1100.4,518.1 1100.9,523.1 1101.4,525.0 1101.9,531.4 1102.4,534.0 1102.9,537.9 1103.4,534.4 1103.9,541.6 1104.4,541.8 1104.9,544.7 1105.4,545.7 1105.9,543.8 1106.4,547.4 1106.9,543.9 1107.4,548.0 1107.9,548.4 1108.4,550.7 1108.9,551.4 1109.4,551.0 1109.9,549.6 1110.4,549.5 1110.9,555.2 1111.4,554.5 1111.9,553.5 1112.4,552.7 1112.9,552.9 1113.4,551.1 1113.9,555.1 1114.4,552.5 1114.9,552.9 1115.4,553.6 1115.9,556.2 1116.4,552.9 1116.9,557.4 1117.4,556.0 1117.9,556.8 1118.4,556.7 1118.9,553.8 1119.4,555.8 1119.9,556.8 1120.4,557.8 1120.9,555.0 1121.4,557.7 1121.9,554.5 1122.4,555.8 1122.9,557.6 1123.4,557.5 1123.9,556.2 1124.4,557.0 1124.9,556.1 1125.4,555.9 1125.9,558.7 1126.4,555.9 1126.9,559.1 1127.4,560.6 1127.9,561.0 1128.4,558.6 1128.9,556.0 1129.4,557.1 1129.9,560.5 1130.4,560.9 1130.9,560.0 1131.4,558.0 1131.9,561.7 1132.4,556.1 1132.9,560.0 1133.4,557.7 1133.9,560.3 1134.4,560.1 1134.9,560.5 1135.4,557.8 1135.9,561.3 1136.4,560.5 1136.9,561.6 1137.4,559.2 1137.9,557.8 1138.4,560.5 1138.9,558.2 1139.4,560.7 1139.9,561.2 1140.4,558.6 1140.9,558.6 1141.4,558.1 1141.9,557.7 1142.4,559.0 1142.9,562.5 1143.4,563.2 1143.9,561.9 1144.4,559.9 1144.9,562.4 1145.4,559.6 1145.9,561.2 1146.4,560.5 1146.9,557.6 1147.4,561.7 1147.9,562.4 1148.4,558.3 1148.9,562.7 1149.4,559.2 1149.9,559.5 1150.4,558.0 1150.9,558.7 1151.4,558.4 1151.9,561.4 1152.4,561.1 1152.9,558.4 1153.4,562.0 1153.9,559.6 1154.4,560.2 1154.9,563.5 1155.4,563.3 1155.9,560.8 1156.4,560.7 1156.9,563.0 1157.4,559.2 1157.9,564.3 1158.4,560.4 1158.9,561.1 1159.4,562.3 1159.9,563.9 1160.4,562.2 1160.9,561.3 1161.4,560.2 1161.9,558.8 1162.4,559.7 1162.9,563.6 1163.4,563.9 1163.9,561.3 1164.4,560.5 1164.9,563.0 1165.4,561.9 1165.9,561.0 1166.4,559.0 1166.9,559.8 1167.4,558.1 1167.9,561.7 1168.4,562.1 1168.9,558.3 1169.4,559.2 1169.9,561.3 1170.4,559.7 1170.9,561.1 1171.4,560.2 1171.9,562.6 1172.4,562.4 1172.9,561.8 1173.4,562.1 1173.9,563.6 1174.4,562.2 1174.9,561.6 1175.4,559.6 1175.9,559.3 1176.4,564.0 1176.9,560.5 1177.4,560.5 1177.9,559.3 1178.4,558.7 1178.9,559.3 1179.4,560.7 1179.9,561.7 1180.4,560.8 1180.9,559.3 1181.4,560.9 1181.9,561.3 1182.4,560.2 1182.9,562.7 1183.4,561.1 1183.9,561.1 1184.4,563.0 1184.9,562.3 1185.4,563.0 1185.9,564.5 1186.4,561.4 1186.9,563.5 1187.4,559.4 1187.9,563.6 1188.4,559.2 1188.9,562.9 1189.4,558.6 1189.9,558.9 1190.4,558.9 1190.9,561.3 1191.4,562.7 1191.9,561.4 1192.4,560.7 1192.9,560.8 1193.4,559.7 1193.9,563.1 1194.4,563.3 1194.9,560.1 1195.4,564.7 1195.9,563.4 1196.4,558.7 1196.9,561.9 1197.4,559.3 1197.9,558.6 1198.4,559.8 1198.9,558.3 1199.4,562.9 1199.9,558.1 1200.4,559.9 1200.9,561.2 1201.4,561.4 1201.9,559.1 1202.4,563.4 1202.9,563.3 1203.4,561.5 1203.9,563.1 1204.4,558.5 1204.9,563.0 1205.4,561.5 1205.9,563.3 1206.4,562.0 1206.9,559.3 1207.4,563.8 1207.9,562.5 1208.4,563.7 1208.9,564.7 1209.4,562.8 1209.9,564.9 1210.4,560.5 1210.9,559.3 1211.4,561.3 1211.9,559.5 1212.4,564.5 1212.9,559.9 1213.4,564.0 1213.9,562.6 1214.4,562.8 1214.9,564.2 1215.4,563.9 1215.9,562.4 1216.4,559.2 1216.9,562.9 1217.4,561.9 1217.9,560.2 1218.4,560.8 1218.9,564.0 1219.4,560.8 1219.9,562.4 1220.4,561.1 1220.9,558.9 1221.4,559.3 1221.9,564.3 1222.4,562.4 1222.9,560.0 1223.4,558.8 1223.9,559.8 1224.4,559.7 1224.9,560.6 1225.4,564.1 1225.9,559.0 1226.4,561.9 1226.9,560.3 1227.4,560.5 1227.9,562.3 1228.4,557.8 1228.9,559.7 1229.4,559.4 1229.9,557.9 1230.4,556.3 1230.9,558.0 1231.4,555.6 1231.9,559.8 1232.4,554.5 1232.9,556.9 1233.4,556.3 1233.9,557.5 1234.4,555.8 1234.9,559.3 1235.4,559.2 1235.9,559.4 1236.4,560.1 1236.9,557.6 1237.4,561.9 1237.9,563.6 1238.4,562.6 1238.9,558.8 1239.4,560.6 1239.9,559.7 1240.4,563.0 1240.9,563.8 1241.4,562.7 1241.9,559.1 1242.4,561.5 1242.9,561.2 1243.4,563.5 1243.9,563.5 1244.4,563.0 1244.9,559.5 1245.4,563.9 1245.9,559.5 1246.4,561.1 1246.9,564.9 1247.4,561.1 1247.9,561.5 1248.4,563.8 1248.9,559.5 1249.4,560.7 1249.9,561.1 1250.4,562.5 1250.9,561.5 1251.4,561.5 1251.9,560.8 1252.4,564.7 1252.9,564.7 1253.4,561.7 1253.9,561.8 1254.4,561.1 1254.9,561.6 1255.4,560.8 1255.9,562.0 1256.4,563.7 1256.9,563.7 1257.4,561.0 1257.9,560.1 1258.4,560.7 1258.9,560.0 1259.4,563.9 1259.9,563.7 1260.4,562.5 1260.9,563.5 1261.4,560.3 1261.9,560.1 1262.4,560.8 1262.9,560.1 1263.4,563.9 1263.9,564.2 1264.4,560.7 1264.9,561.8 1265.4,564.2 1265.9,565.0 1266.4,562.6 1266.9,562.8 1267.4,563.0 1267.9,562.3 1268.4,564.3 1268.9,565.1 1269.4,561.7 1269.9,564.6 1270.4,564.9 1270.9,562.2 1271.4,564.7 1271.9,564.4 1272.4,561.0 1272.9,561.5 1273.4,562.8 1273.9,561.1 1274.4,561.6 1274.9,560.1 1275.4,564.3 1275.9,560.8 1276.4,559.2 1276.9,563.1 1277.4,560.2 1277.9,564.9 1278.4,559.6 1278.9,564.5 1279.4,560.2 1279.9,563.2 1280.4,564.5 1280.9,564.2 1281.4,562.2 1281.9,563.2 1282.4,559.4 1282.9,563.1 1283.4,559.5 1283.9,558.5 1284.4,557.8 1284.9,561.8 1285.4,563.0 1285.9,560.6 1286.4,558.7 1286.9,562.5 1287.4,562.3 1287.9,559.1 1288.4,557.3 1288.9,556.9 1289.4,560.0 1289.9,559.5 1290.4,556.2 1290.9,557.6 1291.4,558.8 1291.9,557.6 1292.4,556.9 1292.9,553.2 1293.4,552.3 1293.9,546.8 1294.4,550.9 1294.9,548.3 1295.4,544.2 1295.9,541.2 1296.4,542.2 1296.9,540.8 1297.4,531.7 1297.9,533.8 1298.4,534.1 1298.9,533.3 1299.4,528.0 1299.9,532.3 1300.4,531.7 1300.9,528.4 1301.4,527.9 1301.9,533.4 1302.4,536.8 1302.9,539.6 1303.4,537.2 1303.9,543.2 1304.4,540.5 1304.9,545.0 1305.4,546.2 1305.9,546.8 1306.4,544.6 1306.9,548.9 1307.4,546.3 1307.9,542.6 1308.4,544.9 1308.9,543.1 1309.4,542.8 1309.9,541.1 1310.4,537.2 1310.9,535.1 1311.4,540.2 1311.9,536.0 1312.4,532.1 1312.9,535.3 1313.4,532.3 1313.9,532.9 1314.4,528.8 1314.9,525.3 1315.4,529.4 1315.9,530.3 1316.4,530.4 1316.9,531.1 1317.4,532.8 1317.9,540.4 1318.4,539.8 1318.9,539.3 1319.4,541.5 1319.9,545.1 1320.4,544.5 1320.9,547.8 1321.4,553.0 1321.9,548.8 1322.4,552.6 1322.9,552.3 1323.4,553.5 1323.9,557.3 1324.4,554.7 1324.9,555.9 1325.4,558.2 1325.9,556.2 1326.4,554.6 1326.9,557.9 1327.4,557.7 1327.9,555.3 1328.4,552.5 1328.9,553.9 1329.4,551.8 1329.9,553.8 1330.4,551.6 1330.9,555.7 1331.4,554.4 1331.9,554.0 1332.4,549.7 1332.9,552.2 1333.4,551.1 1333.9,547.1 1334.4,548.4 1334.9,546.9 1335.4,550.0 1335.9,547.3 1336.4,548.5 1336.9,554.4 1337.4,554.0 1337.9,553.2 1338.4,554.5 1338.9,558.0 1339.4,555.6 1339.9,559.8 1340.4,560.1 1340.9,559.5 1341.4,560.6 1341.9,560.2 1342.4,558.4 1342.9,562.0 1343.4,558.5 1343.9,561.9 1344.4,561.0 1344.9,561.9 1345.4,564.0 1345.9,561.1 1346.4,562.2 1346.9,558.5 1347.4,560.7 1347.9,559.5 1348.4,560.5 1348.9,562.9 1349.4,561.6 1349.9,564.3 1350.4,562.9 1350.9,562.2 1351.4,563.5 1351.9,564.6 1352.4,565.0 1352.9,560.7 1353.4,563.4 1353.9,561.8 1354.4,559.7 1354.9,563.2 1355.4,564.1 1355.9,560.6 1356.4,561.2 1356.9,560.4 1357.4,562.0 1357.9,562.3 1358.4,562.8 1358.9,563.7 1359.4,560.1 1359.9,561.4 1360.4,565.3 1360.9,564.7 1361.4,562.8 1361.9,563.2 1362.4,560.1 1362.9,562.9 1363.4,564.5 1363.9,562.2 1364.4,563.3 1364.9,560.3 1365.4,562.2 1365.9,563.3 1366.4,560.2 1366.9,561.6 1367.4,561.1 1367.9,561.4 1368.4,560.1 1368.9,559.7 1369.4,559.0 1369.9,559.9 1370.4,558.5 1370.9,561.5 1371.4,558.9 1371.9,562.8 1372.4,563.8 1372.9,558.4 1373.4,559.1 1373.9,561.1 1374.4,563.4 1374.9,562.7 1375.4,560.1 1375.9,560.6 1376.4,564.2 1376.9,559.5 1377.4,563.3 1377.9,558.8 1378.4,563.9 1378.9,561.5 1379.4,560.1 1379.9,561.1 1380.4,562.2 1380.9,558.9 1381.4,560.4 1381.9,562.7 1382.4,559.2 1382.9,559.0 1383.4,563.3 1383.9,563.8 1384.4,562.8 1384.9,561.9 1385.4,560.5 1385.9,559.3 1386.4,563.9 1386.9,563.2 1387.4,558.6 1387.9,559.1 1388.4,562.3 1388.9,561.1 1389.4,559.3 1389.9,559.4 1390.4,562.5 1390.9,562.3 1391.4,561.5 1391.9,561.4 1392.4,561.3 1392.9,558.1 1393.4,560.1 1393.9,562.8 1394.4,560.4 1394.9,558.9 1395.4,561.7 1395.9,562.0 1396.4,558.3 1396.9,560.2 1397.4,558.7 1397.9,560.9 1398.4,559.1 1398.9,557.6 1399.4,556.8 1399.9,561.1 1400.4,559.2 1400.9,557.4 1401.4,558.7 1401.9,557.7 1402.4,557.2 1402.9,555.2 1403.4,557.3 1403.9,556.9 1404.4,553.0 1404.9,552.9 1405.4,556.7 1405.9,557.6 1406.4,557.1 1406.9,556.4 1407.4,555.0 1407.9,556.0 1408.4,552.8 1408.9,553.7 1409.4,553.5 1409.9,558.2 1410.4,555.0 1410.9,554.2 1411.4,559.0 1411.9,558.0 1412.4,555.3 1412.9,559.7 1413.4,556.3 1413.9,553.8 1414.4,554.3 1414.9,558.0 1415.4,559.8 1415.9,559.4 1416.4,558.2 1416.9,556.7 1417.4,560.2 1417.9,560.1 1418.4,558.1 1418.9,558.5 1419.4,561.7 1419.9,558.3 1420.4,557.9 1420.9,561.0 1421.4,560.5 1421.9,562.9 1422.4,561.2 1422.9,558.3 1423.4,558.5 1423.9,562.1 1424.4,562.6 1424.9,559.9 1425.4,562.7 1425.9,559.7 1426.4,558.5 1426.9,560.5 1427.4,560.5 1427.9,560.9 1428.4,563.1 1428.9,563.3 1429.4,560.0 1429.9,561.3 1430.4,562.6 1430.9,559.5 1431.4,561.0 1431.9,563.1 1432.4,561.7 1432.9,560.3 1433.4,559.4 1433.9,560.3 1434.4,561.3 1434.9,560.4 1435.4,560.6 1435.9,562.3 1436.4,560.6 1436.9,559.8 1437.4,558.5 1437.9,558.6 1438.4,559.1 1438.9,558.4 1439.4,562.3 1439.9,558.7 1440.4,560.0 1440.9,561.5 1441.4,563.5 1441.9,563.6 1442.4,562.4 1442.9,559.6 1443.4,561.7 1443.9,560.6 1444.4,561.7 1444.9,559.9 1445.4,560.4 1445.9,561.5 1446.4,563.5 1446.9,560.2 1447.4,558.1 1447.9,558.0 1448.4,561.9 1448.9,560.7 1449.4,561.4 1449.9,560.2 1450.4,563.0 1450.9,561.9 1451.4,558.8 1451.9,560.8 1452.4,558.6 1452.9,560.3 1453.4,561.5 1453.9,561.6 1454.4,563.0 1454.9,558.4 1455.4,561.4 1455.9,561.6 1456.4,558.7 1456.9,557.2 1457.4,557.2 1457.9,558.8 1458.4,560.3 1458.9,558.1 1459.4,558.9 1459.9,557.6 1460.4,561.8 1460.9,560.3 1461.4,558.8 1461.9,558.6 1462.4,560.4 1462.9,557.9 1463.4,558.0 1463.9,557.7 1464.4,560.9 1464.9,560.6 1465.4,561.3 1465.9,557.1 1466.4,559.1 1466.9,560.1 1467.4,557.9 1467.9,560.1 1468.4,561.8 1468.9,561.2 1469.4,558.7 1469.9,561.6 1470.4,562.4 1470.9,557.1 1471.4,560.9 1471.9,560.7 1472.4,561.7 1472.9,556.6 1473.4,561.3 1473.9,556.5 1474.4,562.0 1474.9,558.5 1475.4,557.0 1475.9,556.5 1476.4,556.7 1476.9,558.8 1477.4,560.2 1477.9,560.8 1478.4,557.4 1478.9,555.6 1479.4,558.8 1479.9,555.6 1480.4,554.6 1480.9,556.2 1481.4,556.0 1481.9,554.7 1482.4,554.8 1482.9,554.8 1483.4,554.8 1483.9,555.1 1484.4,554.5 1484.9,553.3 1485.4,549.8 1485.9,553.0 1486.4,550.0 1486.9,552.3 1487.4,552.8 1487.9,550.3 1488.4,549.6 1488.9,547.0 1489.4,550.4 1489.9,547.4 1490.4,542.6 1490.9,544.0 1491.4,544.5 1491.9,546.5 1492.4,545.8 1492.9,543.4 1493.4,544.5 1493.9,549.4 1494.4,543.8 1494.9,546.2 1495.4,546.7 1495.9,547.7 1496.4,549.6 1496.9,546.7 1497.4,547.9 1497.9,550.4 1498.4,548.1 1498.9,552.6 1499.4,550.4 1499.9,550.2 1500.4,552.4 1500.9,552.0 1501.4,552.0 1501.9,547.0 1502.4,546.1 1502.9,549.0 1503.4,544.7 1503.9,549.5 1504.4,548.9 1504.9,545.1 1505.4,547.9 1505.9,541.9 1506.4,545.1 1506.9,542.3 1507.4,544.3 1507.9,540.0 1508.4,541.1 1508.9,539.6 1509.4,535.3 1509.9,540.2 1510.4,539.4 1510.9,538.7 1511.4,535.2 1511.9,532.3 1512.4,535.1 1512.9,534.5 1513.4,530.4 1513.9,535.1 1514.4,536.7 1514.9,533.2 1515.4,530.3 1515.9,529.8 1516.4,530.6 1516.9,536.5 1517.4,533.4 1517.9,536.4 1518.4,536.8 1518.9,540.0 1519.4,540.7 1519.9,540.0 1520.4,537.6 1520.9,542.7 1521.4,545.5 1521.9,539.7 1522.4,545.7 1522.9,543.4 1523.4,549.2 1523.9,548.4 1524.4,548.1 1524.9,547.3 1525.4,551.1 1525.9,548.2 1526.4,550.5 1526.9,551.6 1527.4,554.0 1527.9,556.3 1528.4,557.4 1528.9,555.6 1529.4,555.8 1529.9,557.5 1530.4,554.7 1530.9,554.7 1531.4,558.2 1531.9,560.0 1532.4,559.7 1532.9,557.6 1533.4,555.9 1533.9,559.1 1534.4,556.0 1534.9,557.4 1535.4,552.4 1535.9,555.8 1536.4,552.7 1536.9,554.2 1537.4,552.1 1537.9,550.2 1538.4,555.6 1538.9,554.7 1539.4,554.7 1539.9,551.3 1540.4,547.7 1540.9,550.0 1541.4,550.4 1541.9,546.4 1542.4,549.1 1542.9,551.5 1543.4,550.7 1543.9,549.2 1544.4,549.1 1544.9,549.7 1545.4,549.9 1545.9,549.2 1546.4,550.8 1546.9,551.3 1547.4,556.2 1547.9,551.0 1548.4,553.0 1548.9,551.9 1549.4,554.9 1549.9,552.7 1550.4,556.3 1550.9,556.8 1551.4,558.1 1551.9,558.9 1552.4,558.1 1552.9,555.6 1553.4,558.8 1553.9,556.8 1554.4,557.4 1554.9,556.1 1555.4,559.9 1555.9,557.7 1556.4,559.3 1556.9,559.9 1557.4,559.3 1557.9,559.8 1558.4,558.7 1558.9,562.7 1559.4,559.8 1559.9,562.2 1560.4,557.8 1560.9,558.6 1561.4,562.0 1561.9,563.1 1562.4,558.7 1562.9,561.5 1563.4,559.7 1563.9,558.8 1564.4,559.6 1564.9,561.4 1565.4,564.2 1565.9,561.7 1566.4,561.0" fill="none" stroke="#f44243" stroke-width="9.4" stroke-linejoin="round" stroke-linecap="butt" clip-path="url(#plot)"/>
<text class="s" transform="translate(258.4,1307.6) scale(0.975,1)" font-size="70.5" text-anchor="middle">20</text>
<text class="s" transform="translate(476.4,1307.6) scale(0.975,1)" font-size="70.5" text-anchor="middle">30</text>
<text class="s" transform="translate(694.4,1307.6) scale(0.975,1)" font-size="70.5" text-anchor="middle">40</text>
<text class="s" transform="translate(912.5,1307.6) scale(0.975,1)" font-size="70.5" text-anchor="middle">50</text>
<text class="s" transform="translate(1130.5,1307.6) scale(0.975,1)" font-size="70.5" text-anchor="middle">60</text>
<text class="s" transform="translate(1348.5,1307.6) scale(0.975,1)" font-size="70.5" text-anchor="middle">70</text>
<text class="s" transform="translate(1566.5,1307.6) scale(0.975,1)" font-size="70.5" text-anchor="middle">80</text>
<text class="s" transform="translate(831.4,1395.0) scale(0.96,1)" font-size="87.0" text-anchor="middle">2-Theta(°)</text>
<text class="s" transform="translate(158.4,371.3) scale(0.962,1)" font-size="70" text-anchor="start">oxidated</text>
<text class="s" transform="translate(159.8,969.3) scale(0.957,1)" font-size="70" text-anchor="start">reduced</text>
<text class="s" transform="translate(752.0,153.0) scale(0.962,1)" font-size="70" text-anchor="start">LMO</text>
<text class="s" transform="translate(1072.0,147.0) scale(0.965,1)" font-size="70" text-anchor="start">CeO<tspan font-size="48" dy="17.5">2</tspan></text>
<text class="s" transform="translate(1382.5,152.6) scale(0.978,1)" font-size="70" text-anchor="start">MnO</text>
<text class="s" transform="translate(100.5,604.5) rotate(-90) scale(1.0,1)" font-size="86.5" text-anchor="middle">Intensity(a.u.)</text>
<text class="m" transform="translate(719.5,161.2) scale(1.0,1.04)" font-size="58" text-anchor="middle" stroke="#000" stroke-width="0.6">*</text>
<text class="m" transform="translate(319.9,445.6) scale(1.0,1.04)" font-size="58" text-anchor="middle" stroke="#000" stroke-width="0.6">*</text>
<text class="m" transform="translate(525.2,178.3) scale(1.0,1.04)" font-size="58" text-anchor="middle" stroke="#000" stroke-width="0.6">*</text>
<text class="m" transform="translate(536.6,151.9) scale(1.0,1.04)" font-size="58" text-anchor="middle" stroke="#000" stroke-width="0.6">*</text>
<text class="m" transform="translate(694.6,478.0) scale(1.0,1.04)" font-size="58" text-anchor="middle" stroke="#000" stroke-width="0.6">*</text>
<text class="m" transform="translate(705.2,534.8) scale(1.0,1.04)" font-size="58" text-anchor="middle" stroke="#000" stroke-width="0.6">*</text>
<text class="m" transform="translate(839.6,378.8) scale(1.0,1.04)" font-size="58" text-anchor="middle" stroke="#000" stroke-width="0.6">*</text>
<text class="m" transform="translate(967.6,550.3) scale(1.0,1.04)" font-size="58" text-anchor="middle" stroke="#000" stroke-width="0.6">*</text>
<text class="m" transform="translate(1084.1,430.9) scale(1.0,1.04)" font-size="58" text-anchor="middle" stroke="#000" stroke-width="0.6">*</text>
<text class="m" transform="translate(1098.3,515.4) scale(1.0,1.04)" font-size="58" text-anchor="middle" stroke="#000" stroke-width="0.6">*</text>
<text class="m" transform="translate(1298.3,537.7) scale(1.0,1.04)" font-size="58" text-anchor="middle" stroke="#000" stroke-width="0.6">*</text>
<text class="m" transform="translate(1314.7,535.3) scale(1.0,1.04)" font-size="58" text-anchor="middle" stroke="#000" stroke-width="0.6">*</text>
<text class="m" transform="translate(1518.2,541.4) scale(1.0,1.04)" font-size="58" text-anchor="middle" stroke="#000" stroke-width="0.6">*</text>
<text class="m" transform="translate(308.9,1052.1) scale(1.0,1.04)" font-size="58" text-anchor="middle" stroke="#000" stroke-width="0.6">*</text>
<text class="m" transform="translate(324.8,1075.4) scale(1.0,1.04)" font-size="58" text-anchor="middle" stroke="#000" stroke-width="0.6">*</text>
<text class="m" transform="translate(370.2,1090.7) scale(1.0,1.04)" font-size="58" text-anchor="middle" stroke="#000" stroke-width="0.6">*</text>
<text class="m" transform="translate(504.9,1074.9) scale(1.0,1.04)" font-size="58" text-anchor="middle" stroke="#000" stroke-width="0.6">*</text>
<text class="m" transform="translate(525.3,631.0) scale(1.0,1.04)" font-size="58" text-anchor="middle" stroke="#000" stroke-width="0.6">*</text>
<text class="m" transform="translate(675.9,1111.3) scale(1.0,1.04)" font-size="58" text-anchor="middle" stroke="#000" stroke-width="0.6">*</text>
<text class="m" transform="translate(694.6,1081.1) scale(1.0,1.04)" font-size="58" text-anchor="middle" stroke="#000" stroke-width="0.6">*</text>
<text class="m" transform="translate(815.2,1072.5) scale(1.0,1.04)" font-size="58" text-anchor="middle" stroke="#000" stroke-width="0.6">*</text>
<text class="m" transform="translate(960.7,1120.1) scale(1.0,1.04)" font-size="58" text-anchor="middle" stroke="#000" stroke-width="0.6">*</text>
<text class="m" transform="translate(1078.2,1059.7) scale(1.0,1.04)" font-size="58" text-anchor="middle" stroke="#000" stroke-width="0.6">*</text>
<text class="m" transform="translate(1298.5,1106.1) scale(1.0,1.04)" font-size="58" text-anchor="middle" stroke="#000" stroke-width="0.6">*</text>
<text class="m" transform="translate(1486.5,1116.7) scale(1.0,1.04)" font-size="58" text-anchor="middle" stroke="#000" stroke-width="0.6">*</text>
<text class="m" transform="translate(1037.4,145.8) scale(1.0,1.0)" font-size="36" text-anchor="middle">♥</text>
<text class="m" transform="translate(443.5,287.2) scale(1.0,1.0)" font-size="36" text-anchor="middle">♥</text>
<text class="m" transform="translate(543.0,455.8) scale(1.0,1.0)" font-size="36" text-anchor="middle">♥</text>
<text class="m" transform="translate(858.0,450.3) scale(1.0,1.0)" font-size="36" text-anchor="middle">♥</text>
<text class="m" transform="translate(1049.2,480.3) scale(1.0,1.0)" font-size="36" text-anchor="middle">♥</text>
<text class="m" transform="translate(1490.2,531.4) scale(1.0,1.0)" font-size="36" text-anchor="middle">♥</text>
<text class="m" transform="translate(442.2,886.7) scale(1.0,1.0)" font-size="36" text-anchor="middle">♥</text>
<text class="m" transform="translate(543.0,1032.3) scale(1.0,1.0)" font-size="36" text-anchor="middle">♥</text>
<text class="m" transform="translate(853.8,1008.9) scale(1.0,1.0)" font-size="36" text-anchor="middle">♥</text>
<text class="m" transform="translate(1048.5,1050.9) scale(1.0,1.0)" font-size="36" text-anchor="middle">♥</text>
<text class="m" transform="translate(1355.8,163.5)" font-size="66" text-anchor="middle">•</text>
<text class="m" transform="translate(583.3,1105.0)" font-size="66" text-anchor="middle">•</text>
<text class="m" transform="translate(705.4,1105.0)" font-size="66" text-anchor="middle">•</text>
</g>
</svg>
</body></html>
